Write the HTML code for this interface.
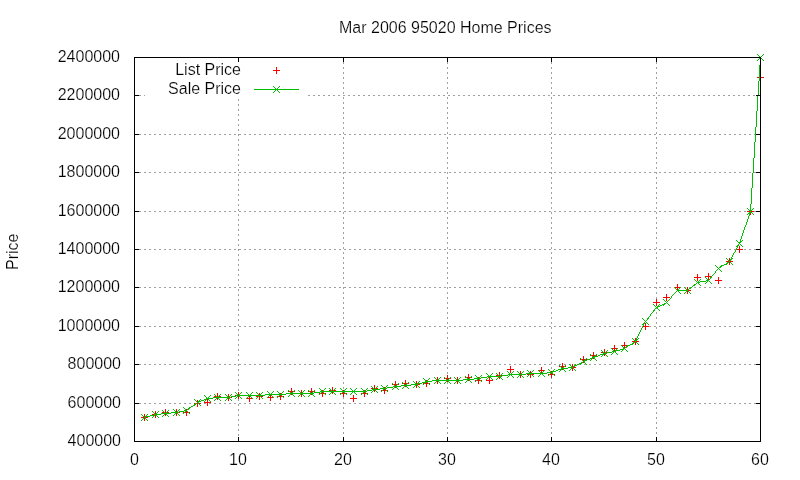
<!DOCTYPE html>
<html><head><meta charset="utf-8"><title>Mar 2006 95020 Home Prices</title>
<style>
html,body{margin:0;padding:0;background:#fff;}
body{width:800px;height:480px;position:relative;overflow:hidden;font-family:"Liberation Sans",sans-serif;font-size:16px;color:#000;}
.t{position:absolute;line-height:20px;height:20px;white-space:nowrap;will-change:transform;-webkit-text-stroke:0.2px #fff;}
.yl{left:0;width:120px;text-align:right;}
.xl{top:450px;width:60px;text-align:center;}
</style></head><body>
<svg width="800" height="480" viewBox="0 0 800 480" shape-rendering="crispEdges" style="position:absolute;left:0;top:0"><path fill="#a0a0a0" d="M343 62h1v1h-1zM447 62h1v1h-1zM551 62h1v1h-1zM656 62h1v1h-1zM343 63h1v1h-1zM447 63h1v1h-1zM551 63h1v1h-1zM656 63h1v1h-1zM343 67h1v1h-1zM447 67h1v1h-1zM551 67h1v1h-1zM656 67h1v1h-1zM343 68h1v1h-1zM447 68h1v1h-1zM551 68h1v1h-1zM656 68h1v1h-1zM343 72h1v1h-1zM447 72h1v1h-1zM551 72h1v1h-1zM656 72h1v1h-1zM343 73h1v1h-1zM447 73h1v1h-1zM551 73h1v1h-1zM656 73h1v1h-1zM343 77h1v1h-1zM447 77h1v1h-1zM551 77h1v1h-1zM656 77h1v1h-1zM343 78h1v1h-1zM447 78h1v1h-1zM551 78h1v1h-1zM656 78h1v1h-1zM343 82h1v1h-1zM447 82h1v1h-1zM551 82h1v1h-1zM656 82h1v1h-1zM343 83h1v1h-1zM447 83h1v1h-1zM551 83h1v1h-1zM656 83h1v1h-1zM343 87h1v1h-1zM447 87h1v1h-1zM551 87h1v1h-1zM656 87h1v1h-1zM343 88h1v1h-1zM447 88h1v1h-1zM551 88h1v1h-1zM656 88h1v1h-1zM343 92h1v1h-1zM447 92h1v1h-1zM551 92h1v1h-1zM656 92h1v1h-1zM343 93h1v1h-1zM447 93h1v1h-1zM551 93h1v1h-1zM656 93h1v1h-1zM139 95h2v1h-2zM144 95h1v1h-1zM308 95h2v1h-2zM313 95h2v1h-2zM318 95h2v1h-2zM323 95h2v1h-2zM328 95h2v1h-2zM333 95h2v1h-2zM338 95h2v1h-2zM343 95h2v1h-2zM348 95h2v1h-2zM353 95h2v1h-2zM358 95h2v1h-2zM363 95h2v1h-2zM368 95h2v1h-2zM373 95h2v1h-2zM378 95h2v1h-2zM383 95h2v1h-2zM388 95h2v1h-2zM393 95h2v1h-2zM398 95h2v1h-2zM403 95h2v1h-2zM408 95h2v1h-2zM413 95h2v1h-2zM418 95h2v1h-2zM423 95h2v1h-2zM428 95h2v1h-2zM433 95h2v1h-2zM438 95h2v1h-2zM443 95h2v1h-2zM448 95h2v1h-2zM453 95h2v1h-2zM458 95h2v1h-2zM463 95h2v1h-2zM468 95h2v1h-2zM473 95h2v1h-2zM478 95h2v1h-2zM483 95h2v1h-2zM488 95h2v1h-2zM493 95h2v1h-2zM498 95h2v1h-2zM503 95h2v1h-2zM508 95h2v1h-2zM513 95h2v1h-2zM518 95h2v1h-2zM523 95h2v1h-2zM528 95h2v1h-2zM533 95h2v1h-2zM538 95h2v1h-2zM543 95h2v1h-2zM548 95h2v1h-2zM553 95h2v1h-2zM558 95h2v1h-2zM563 95h2v1h-2zM568 95h2v1h-2zM573 95h2v1h-2zM578 95h2v1h-2zM583 95h2v1h-2zM588 95h2v1h-2zM593 95h2v1h-2zM598 95h2v1h-2zM603 95h2v1h-2zM608 95h2v1h-2zM613 95h2v1h-2zM618 95h2v1h-2zM623 95h2v1h-2zM628 95h2v1h-2zM633 95h2v1h-2zM638 95h2v1h-2zM643 95h2v1h-2zM648 95h2v1h-2zM653 95h2v1h-2zM658 95h2v1h-2zM663 95h2v1h-2zM668 95h2v1h-2zM673 95h2v1h-2zM678 95h2v1h-2zM683 95h2v1h-2zM688 95h2v1h-2zM693 95h2v1h-2zM698 95h2v1h-2zM703 95h2v1h-2zM708 95h2v1h-2zM713 95h2v1h-2zM718 95h2v1h-2zM723 95h2v1h-2zM728 95h2v1h-2zM733 95h2v1h-2zM738 95h2v1h-2zM743 95h2v1h-2zM748 95h2v1h-2zM753 95h2v1h-2zM343 97h1v1h-1zM447 97h1v1h-1zM551 97h1v1h-1zM656 97h1v1h-1zM343 98h1v1h-1zM447 98h1v1h-1zM551 98h1v1h-1zM656 98h1v1h-1zM238 99h1v1h-1zM238 100h1v1h-1zM343 102h1v1h-1zM447 102h1v1h-1zM551 102h1v1h-1zM656 102h1v1h-1zM343 103h1v1h-1zM447 103h1v1h-1zM551 103h1v1h-1zM656 103h1v1h-1zM238 104h1v1h-1zM238 105h1v1h-1zM343 107h1v1h-1zM447 107h1v1h-1zM551 107h1v1h-1zM656 107h1v1h-1zM343 108h1v1h-1zM447 108h1v1h-1zM551 108h1v1h-1zM656 108h1v1h-1zM238 109h1v1h-1zM238 110h1v1h-1zM343 112h1v1h-1zM447 112h1v1h-1zM551 112h1v1h-1zM656 112h1v1h-1zM343 113h1v1h-1zM447 113h1v1h-1zM551 113h1v1h-1zM656 113h1v1h-1zM238 114h1v1h-1zM238 115h1v1h-1zM343 117h1v1h-1zM447 117h1v1h-1zM551 117h1v1h-1zM656 117h1v1h-1zM343 118h1v1h-1zM447 118h1v1h-1zM551 118h1v1h-1zM656 118h1v1h-1zM238 119h1v1h-1zM238 120h1v1h-1zM343 122h1v1h-1zM447 122h1v1h-1zM551 122h1v1h-1zM656 122h1v1h-1zM343 123h1v1h-1zM447 123h1v1h-1zM551 123h1v1h-1zM656 123h1v1h-1zM238 124h1v1h-1zM238 125h1v1h-1zM343 127h1v1h-1zM447 127h1v1h-1zM551 127h1v1h-1zM656 127h1v1h-1zM343 128h1v1h-1zM447 128h1v1h-1zM551 128h1v1h-1zM656 128h1v1h-1zM238 129h1v1h-1zM238 130h1v1h-1zM343 132h1v1h-1zM447 132h1v1h-1zM551 132h1v1h-1zM656 132h1v1h-1zM343 133h1v1h-1zM447 133h1v1h-1zM551 133h1v1h-1zM656 133h1v1h-1zM139 134h2v1h-2zM144 134h2v1h-2zM149 134h2v1h-2zM154 134h2v1h-2zM159 134h2v1h-2zM164 134h2v1h-2zM169 134h2v1h-2zM174 134h2v1h-2zM179 134h2v1h-2zM184 134h2v1h-2zM189 134h2v1h-2zM194 134h2v1h-2zM199 134h2v1h-2zM204 134h2v1h-2zM209 134h2v1h-2zM214 134h2v1h-2zM219 134h2v1h-2zM224 134h2v1h-2zM229 134h2v1h-2zM234 134h2v1h-2zM238 134h3v1h-3zM244 134h2v1h-2zM249 134h2v1h-2zM254 134h2v1h-2zM259 134h2v1h-2zM264 134h2v1h-2zM269 134h2v1h-2zM274 134h2v1h-2zM279 134h2v1h-2zM284 134h2v1h-2zM289 134h2v1h-2zM294 134h2v1h-2zM299 134h2v1h-2zM304 134h2v1h-2zM309 134h2v1h-2zM314 134h2v1h-2zM319 134h2v1h-2zM324 134h2v1h-2zM329 134h2v1h-2zM334 134h2v1h-2zM339 134h2v1h-2zM344 134h2v1h-2zM349 134h2v1h-2zM354 134h2v1h-2zM359 134h2v1h-2zM364 134h2v1h-2zM369 134h2v1h-2zM374 134h2v1h-2zM379 134h2v1h-2zM384 134h2v1h-2zM389 134h2v1h-2zM394 134h2v1h-2zM399 134h2v1h-2zM404 134h2v1h-2zM409 134h2v1h-2zM414 134h2v1h-2zM419 134h2v1h-2zM424 134h2v1h-2zM429 134h2v1h-2zM434 134h2v1h-2zM439 134h2v1h-2zM444 134h2v1h-2zM449 134h2v1h-2zM454 134h2v1h-2zM459 134h2v1h-2zM464 134h2v1h-2zM469 134h2v1h-2zM474 134h2v1h-2zM479 134h2v1h-2zM484 134h2v1h-2zM489 134h2v1h-2zM494 134h2v1h-2zM499 134h2v1h-2zM504 134h2v1h-2zM509 134h2v1h-2zM514 134h2v1h-2zM519 134h2v1h-2zM524 134h2v1h-2zM529 134h2v1h-2zM534 134h2v1h-2zM539 134h2v1h-2zM544 134h2v1h-2zM549 134h2v1h-2zM554 134h2v1h-2zM559 134h2v1h-2zM564 134h2v1h-2zM569 134h2v1h-2zM574 134h2v1h-2zM579 134h2v1h-2zM584 134h2v1h-2zM589 134h2v1h-2zM594 134h2v1h-2zM599 134h2v1h-2zM604 134h2v1h-2zM609 134h2v1h-2zM614 134h2v1h-2zM619 134h2v1h-2zM624 134h2v1h-2zM629 134h2v1h-2zM634 134h2v1h-2zM639 134h2v1h-2zM644 134h2v1h-2zM649 134h2v1h-2zM654 134h2v1h-2zM659 134h2v1h-2zM664 134h2v1h-2zM669 134h2v1h-2zM674 134h2v1h-2zM679 134h2v1h-2zM684 134h2v1h-2zM689 134h2v1h-2zM694 134h2v1h-2zM699 134h2v1h-2zM704 134h2v1h-2zM709 134h2v1h-2zM714 134h2v1h-2zM719 134h2v1h-2zM724 134h2v1h-2zM729 134h2v1h-2zM734 134h2v1h-2zM739 134h2v1h-2zM744 134h2v1h-2zM749 134h2v1h-2zM754 134h1v1h-1zM238 135h1v1h-1zM343 137h1v1h-1zM447 137h1v1h-1zM551 137h1v1h-1zM656 137h1v1h-1zM343 138h1v1h-1zM447 138h1v1h-1zM551 138h1v1h-1zM656 138h1v1h-1zM238 139h1v1h-1zM238 140h1v1h-1zM343 142h1v1h-1zM447 142h1v1h-1zM551 142h1v1h-1zM656 142h1v1h-1zM343 143h1v1h-1zM447 143h1v1h-1zM551 143h1v1h-1zM656 143h1v1h-1zM238 144h1v1h-1zM238 145h1v1h-1zM343 147h1v1h-1zM447 147h1v1h-1zM551 147h1v1h-1zM656 147h1v1h-1zM343 148h1v1h-1zM447 148h1v1h-1zM551 148h1v1h-1zM656 148h1v1h-1zM238 149h1v1h-1zM238 150h1v1h-1zM343 152h1v1h-1zM447 152h1v1h-1zM551 152h1v1h-1zM656 152h1v1h-1zM343 153h1v1h-1zM447 153h1v1h-1zM551 153h1v1h-1zM656 153h1v1h-1zM238 154h1v1h-1zM238 155h1v1h-1zM343 157h1v1h-1zM447 157h1v1h-1zM551 157h1v1h-1zM656 157h1v1h-1zM343 158h1v1h-1zM447 158h1v1h-1zM551 158h1v1h-1zM656 158h1v1h-1zM238 159h1v1h-1zM238 160h1v1h-1zM343 162h1v1h-1zM447 162h1v1h-1zM551 162h1v1h-1zM656 162h1v1h-1zM343 163h1v1h-1zM447 163h1v1h-1zM551 163h1v1h-1zM656 163h1v1h-1zM238 164h1v1h-1zM238 165h1v1h-1zM343 167h1v1h-1zM447 167h1v1h-1zM551 167h1v1h-1zM656 167h1v1h-1zM343 168h1v1h-1zM447 168h1v1h-1zM551 168h1v1h-1zM656 168h1v1h-1zM238 169h1v1h-1zM238 170h1v1h-1zM139 172h2v1h-2zM144 172h2v1h-2zM149 172h2v1h-2zM154 172h2v1h-2zM159 172h2v1h-2zM164 172h2v1h-2zM169 172h2v1h-2zM174 172h2v1h-2zM179 172h2v1h-2zM184 172h2v1h-2zM189 172h2v1h-2zM194 172h2v1h-2zM199 172h2v1h-2zM204 172h2v1h-2zM209 172h2v1h-2zM214 172h2v1h-2zM219 172h2v1h-2zM224 172h2v1h-2zM229 172h2v1h-2zM234 172h2v1h-2zM239 172h2v1h-2zM244 172h2v1h-2zM249 172h2v1h-2zM254 172h2v1h-2zM259 172h2v1h-2zM264 172h2v1h-2zM269 172h2v1h-2zM274 172h2v1h-2zM279 172h2v1h-2zM284 172h2v1h-2zM289 172h2v1h-2zM294 172h2v1h-2zM299 172h2v1h-2zM304 172h2v1h-2zM309 172h2v1h-2zM314 172h2v1h-2zM319 172h2v1h-2zM324 172h2v1h-2zM329 172h2v1h-2zM334 172h2v1h-2zM339 172h2v1h-2zM343 172h3v1h-3zM349 172h2v1h-2zM354 172h2v1h-2zM359 172h2v1h-2zM364 172h2v1h-2zM369 172h2v1h-2zM374 172h2v1h-2zM379 172h2v1h-2zM384 172h2v1h-2zM389 172h2v1h-2zM394 172h2v1h-2zM399 172h2v1h-2zM404 172h2v1h-2zM409 172h2v1h-2zM414 172h2v1h-2zM419 172h2v1h-2zM424 172h2v1h-2zM429 172h2v1h-2zM434 172h2v1h-2zM439 172h2v1h-2zM444 172h2v1h-2zM447 172h1v1h-1zM449 172h2v1h-2zM454 172h2v1h-2zM459 172h2v1h-2zM464 172h2v1h-2zM469 172h2v1h-2zM474 172h2v1h-2zM479 172h2v1h-2zM484 172h2v1h-2zM489 172h2v1h-2zM494 172h2v1h-2zM499 172h2v1h-2zM504 172h2v1h-2zM509 172h2v1h-2zM514 172h2v1h-2zM519 172h2v1h-2zM524 172h2v1h-2zM529 172h2v1h-2zM534 172h2v1h-2zM539 172h2v1h-2zM544 172h2v1h-2zM549 172h3v1h-3zM554 172h2v1h-2zM559 172h2v1h-2zM564 172h2v1h-2zM569 172h2v1h-2zM574 172h2v1h-2zM579 172h2v1h-2zM584 172h2v1h-2zM589 172h2v1h-2zM594 172h2v1h-2zM599 172h2v1h-2zM604 172h2v1h-2zM609 172h2v1h-2zM614 172h2v1h-2zM619 172h2v1h-2zM624 172h2v1h-2zM629 172h2v1h-2zM634 172h2v1h-2zM639 172h2v1h-2zM644 172h2v1h-2zM649 172h2v1h-2zM654 172h3v1h-3zM659 172h2v1h-2zM664 172h2v1h-2zM669 172h2v1h-2zM674 172h2v1h-2zM679 172h2v1h-2zM684 172h2v1h-2zM689 172h2v1h-2zM694 172h2v1h-2zM699 172h2v1h-2zM704 172h2v1h-2zM709 172h2v1h-2zM714 172h2v1h-2zM719 172h2v1h-2zM724 172h2v1h-2zM729 172h2v1h-2zM734 172h2v1h-2zM739 172h2v1h-2zM744 172h2v1h-2zM749 172h2v1h-2zM754 172h2v1h-2zM343 173h1v1h-1zM447 173h1v1h-1zM551 173h1v1h-1zM656 173h1v1h-1zM238 174h1v1h-1zM238 175h1v1h-1zM343 177h1v1h-1zM447 177h1v1h-1zM551 177h1v1h-1zM656 177h1v1h-1zM343 178h1v1h-1zM447 178h1v1h-1zM551 178h1v1h-1zM656 178h1v1h-1zM238 179h1v1h-1zM238 180h1v1h-1zM343 182h1v1h-1zM447 182h1v1h-1zM551 182h1v1h-1zM656 182h1v1h-1zM343 183h1v1h-1zM447 183h1v1h-1zM551 183h1v1h-1zM656 183h1v1h-1zM238 184h1v1h-1zM238 185h1v1h-1zM343 187h1v1h-1zM447 187h1v1h-1zM551 187h1v1h-1zM656 187h1v1h-1zM343 188h1v1h-1zM447 188h1v1h-1zM551 188h1v1h-1zM656 188h1v1h-1zM238 189h1v1h-1zM238 190h1v1h-1zM343 192h1v1h-1zM447 192h1v1h-1zM551 192h1v1h-1zM656 192h1v1h-1zM343 193h1v1h-1zM447 193h1v1h-1zM551 193h1v1h-1zM656 193h1v1h-1zM238 194h1v1h-1zM238 195h1v1h-1zM343 197h1v1h-1zM447 197h1v1h-1zM551 197h1v1h-1zM656 197h1v1h-1zM343 198h1v1h-1zM447 198h1v1h-1zM551 198h1v1h-1zM656 198h1v1h-1zM238 199h1v1h-1zM238 200h1v1h-1zM343 202h1v1h-1zM447 202h1v1h-1zM551 202h1v1h-1zM656 202h1v1h-1zM343 203h1v1h-1zM447 203h1v1h-1zM551 203h1v1h-1zM656 203h1v1h-1zM238 204h1v1h-1zM238 205h1v1h-1zM343 207h1v1h-1zM447 207h1v1h-1zM551 207h1v1h-1zM656 207h1v1h-1zM343 208h1v1h-1zM447 208h1v1h-1zM551 208h1v1h-1zM656 208h1v1h-1zM238 209h1v1h-1zM238 210h1v1h-1zM139 211h2v1h-2zM144 211h2v1h-2zM149 211h2v1h-2zM154 211h2v1h-2zM159 211h2v1h-2zM164 211h2v1h-2zM169 211h2v1h-2zM174 211h2v1h-2zM179 211h2v1h-2zM184 211h2v1h-2zM189 211h2v1h-2zM194 211h2v1h-2zM199 211h2v1h-2zM204 211h2v1h-2zM209 211h2v1h-2zM214 211h2v1h-2zM219 211h2v1h-2zM224 211h2v1h-2zM229 211h2v1h-2zM234 211h2v1h-2zM239 211h2v1h-2zM244 211h2v1h-2zM249 211h2v1h-2zM254 211h2v1h-2zM259 211h2v1h-2zM264 211h2v1h-2zM269 211h2v1h-2zM274 211h2v1h-2zM279 211h2v1h-2zM284 211h2v1h-2zM289 211h2v1h-2zM294 211h2v1h-2zM299 211h2v1h-2zM304 211h2v1h-2zM309 211h2v1h-2zM314 211h2v1h-2zM319 211h2v1h-2zM324 211h2v1h-2zM329 211h2v1h-2zM334 211h2v1h-2zM339 211h2v1h-2zM344 211h2v1h-2zM349 211h2v1h-2zM354 211h2v1h-2zM359 211h2v1h-2zM364 211h2v1h-2zM369 211h2v1h-2zM374 211h2v1h-2zM379 211h2v1h-2zM384 211h2v1h-2zM389 211h2v1h-2zM394 211h2v1h-2zM399 211h2v1h-2zM404 211h2v1h-2zM409 211h2v1h-2zM414 211h2v1h-2zM419 211h2v1h-2zM424 211h2v1h-2zM429 211h2v1h-2zM434 211h2v1h-2zM439 211h2v1h-2zM444 211h2v1h-2zM449 211h2v1h-2zM454 211h2v1h-2zM459 211h2v1h-2zM464 211h2v1h-2zM469 211h2v1h-2zM474 211h2v1h-2zM479 211h2v1h-2zM484 211h2v1h-2zM489 211h2v1h-2zM494 211h2v1h-2zM499 211h2v1h-2zM504 211h2v1h-2zM509 211h2v1h-2zM514 211h2v1h-2zM519 211h2v1h-2zM524 211h2v1h-2zM529 211h2v1h-2zM534 211h2v1h-2zM539 211h2v1h-2zM544 211h2v1h-2zM549 211h2v1h-2zM554 211h2v1h-2zM559 211h2v1h-2zM564 211h2v1h-2zM569 211h2v1h-2zM574 211h2v1h-2zM579 211h2v1h-2zM584 211h2v1h-2zM589 211h2v1h-2zM594 211h2v1h-2zM599 211h2v1h-2zM604 211h2v1h-2zM609 211h2v1h-2zM614 211h2v1h-2zM619 211h2v1h-2zM624 211h2v1h-2zM629 211h2v1h-2zM634 211h2v1h-2zM639 211h2v1h-2zM644 211h2v1h-2zM649 211h2v1h-2zM654 211h2v1h-2zM659 211h2v1h-2zM664 211h2v1h-2zM669 211h2v1h-2zM674 211h2v1h-2zM679 211h2v1h-2zM684 211h2v1h-2zM689 211h2v1h-2zM694 211h2v1h-2zM699 211h2v1h-2zM704 211h2v1h-2zM709 211h2v1h-2zM714 211h2v1h-2zM719 211h2v1h-2zM724 211h2v1h-2zM729 211h2v1h-2zM734 211h2v1h-2zM739 211h2v1h-2zM744 211h2v1h-2zM754 211h2v1h-2zM343 212h1v1h-1zM447 212h1v1h-1zM551 212h1v1h-1zM656 212h1v1h-1zM343 213h1v1h-1zM447 213h1v1h-1zM551 213h1v1h-1zM656 213h1v1h-1zM238 214h1v1h-1zM238 215h1v1h-1zM343 217h1v1h-1zM447 217h1v1h-1zM551 217h1v1h-1zM656 217h1v1h-1zM343 218h1v1h-1zM447 218h1v1h-1zM551 218h1v1h-1zM656 218h1v1h-1zM238 219h1v1h-1zM238 220h1v1h-1zM343 222h1v1h-1zM447 222h1v1h-1zM551 222h1v1h-1zM656 222h1v1h-1zM343 223h1v1h-1zM447 223h1v1h-1zM551 223h1v1h-1zM656 223h1v1h-1zM238 224h1v1h-1zM238 225h1v1h-1zM343 227h1v1h-1zM447 227h1v1h-1zM551 227h1v1h-1zM656 227h1v1h-1zM343 228h1v1h-1zM447 228h1v1h-1zM551 228h1v1h-1zM656 228h1v1h-1zM238 229h1v1h-1zM238 230h1v1h-1zM343 232h1v1h-1zM447 232h1v1h-1zM551 232h1v1h-1zM656 232h1v1h-1zM343 233h1v1h-1zM447 233h1v1h-1zM551 233h1v1h-1zM656 233h1v1h-1zM238 234h1v1h-1zM238 235h1v1h-1zM343 237h1v1h-1zM447 237h1v1h-1zM551 237h1v1h-1zM656 237h1v1h-1zM343 238h1v1h-1zM447 238h1v1h-1zM551 238h1v1h-1zM656 238h1v1h-1zM238 239h1v1h-1zM238 240h1v1h-1zM343 242h1v1h-1zM447 242h1v1h-1zM551 242h1v1h-1zM656 242h1v1h-1zM343 243h1v1h-1zM447 243h1v1h-1zM551 243h1v1h-1zM656 243h1v1h-1zM238 244h1v1h-1zM238 245h1v1h-1zM343 247h1v1h-1zM447 247h1v1h-1zM551 247h1v1h-1zM656 247h1v1h-1zM343 248h1v1h-1zM447 248h1v1h-1zM551 248h1v1h-1zM656 248h1v1h-1zM139 249h2v1h-2zM144 249h2v1h-2zM149 249h2v1h-2zM154 249h2v1h-2zM159 249h2v1h-2zM164 249h2v1h-2zM169 249h2v1h-2zM174 249h2v1h-2zM179 249h2v1h-2zM184 249h2v1h-2zM189 249h2v1h-2zM194 249h2v1h-2zM199 249h2v1h-2zM204 249h2v1h-2zM209 249h2v1h-2zM214 249h2v1h-2zM219 249h2v1h-2zM224 249h2v1h-2zM229 249h2v1h-2zM234 249h2v1h-2zM238 249h3v1h-3zM244 249h2v1h-2zM249 249h2v1h-2zM254 249h2v1h-2zM259 249h2v1h-2zM264 249h2v1h-2zM269 249h2v1h-2zM274 249h2v1h-2zM279 249h2v1h-2zM284 249h2v1h-2zM289 249h2v1h-2zM294 249h2v1h-2zM299 249h2v1h-2zM304 249h2v1h-2zM309 249h2v1h-2zM314 249h2v1h-2zM319 249h2v1h-2zM324 249h2v1h-2zM329 249h2v1h-2zM334 249h2v1h-2zM339 249h2v1h-2zM344 249h2v1h-2zM349 249h2v1h-2zM354 249h2v1h-2zM359 249h2v1h-2zM364 249h2v1h-2zM369 249h2v1h-2zM374 249h2v1h-2zM379 249h2v1h-2zM384 249h2v1h-2zM389 249h2v1h-2zM394 249h2v1h-2zM399 249h2v1h-2zM404 249h2v1h-2zM409 249h2v1h-2zM414 249h2v1h-2zM419 249h2v1h-2zM424 249h2v1h-2zM429 249h2v1h-2zM434 249h2v1h-2zM439 249h2v1h-2zM444 249h2v1h-2zM449 249h2v1h-2zM454 249h2v1h-2zM459 249h2v1h-2zM464 249h2v1h-2zM469 249h2v1h-2zM474 249h2v1h-2zM479 249h2v1h-2zM484 249h2v1h-2zM489 249h2v1h-2zM494 249h2v1h-2zM499 249h2v1h-2zM504 249h2v1h-2zM509 249h2v1h-2zM514 249h2v1h-2zM519 249h2v1h-2zM524 249h2v1h-2zM529 249h2v1h-2zM534 249h2v1h-2zM539 249h2v1h-2zM544 249h2v1h-2zM549 249h2v1h-2zM554 249h2v1h-2zM559 249h2v1h-2zM564 249h2v1h-2zM569 249h2v1h-2zM574 249h2v1h-2zM579 249h2v1h-2zM584 249h2v1h-2zM589 249h2v1h-2zM594 249h2v1h-2zM599 249h2v1h-2zM604 249h2v1h-2zM609 249h2v1h-2zM614 249h2v1h-2zM619 249h2v1h-2zM624 249h2v1h-2zM629 249h2v1h-2zM634 249h2v1h-2zM639 249h2v1h-2zM644 249h2v1h-2zM649 249h2v1h-2zM654 249h2v1h-2zM659 249h2v1h-2zM664 249h2v1h-2zM669 249h2v1h-2zM674 249h2v1h-2zM679 249h2v1h-2zM684 249h2v1h-2zM689 249h2v1h-2zM694 249h2v1h-2zM699 249h2v1h-2zM704 249h2v1h-2zM709 249h2v1h-2zM714 249h2v1h-2zM719 249h2v1h-2zM724 249h2v1h-2zM729 249h2v1h-2zM734 249h2v1h-2zM744 249h2v1h-2zM749 249h2v1h-2zM754 249h2v1h-2zM238 250h1v1h-1zM343 252h1v1h-1zM447 252h1v1h-1zM551 252h1v1h-1zM656 252h1v1h-1zM343 253h1v1h-1zM447 253h1v1h-1zM551 253h1v1h-1zM656 253h1v1h-1zM238 254h1v1h-1zM238 255h1v1h-1zM343 257h1v1h-1zM447 257h1v1h-1zM551 257h1v1h-1zM656 257h1v1h-1zM343 258h1v1h-1zM447 258h1v1h-1zM551 258h1v1h-1zM656 258h1v1h-1zM238 259h1v1h-1zM238 260h1v1h-1zM343 262h1v1h-1zM447 262h1v1h-1zM551 262h1v1h-1zM656 262h1v1h-1zM343 263h1v1h-1zM447 263h1v1h-1zM551 263h1v1h-1zM656 263h1v1h-1zM238 264h1v1h-1zM238 265h1v1h-1zM343 267h1v1h-1zM447 267h1v1h-1zM551 267h1v1h-1zM656 267h1v1h-1zM343 268h1v1h-1zM447 268h1v1h-1zM551 268h1v1h-1zM656 268h1v1h-1zM238 269h1v1h-1zM238 270h1v1h-1zM343 272h1v1h-1zM447 272h1v1h-1zM551 272h1v1h-1zM656 272h1v1h-1zM343 273h1v1h-1zM447 273h1v1h-1zM551 273h1v1h-1zM656 273h1v1h-1zM238 274h1v1h-1zM238 275h1v1h-1zM343 277h1v1h-1zM447 277h1v1h-1zM551 277h1v1h-1zM656 277h1v1h-1zM343 278h1v1h-1zM447 278h1v1h-1zM551 278h1v1h-1zM656 278h1v1h-1zM238 279h1v1h-1zM238 280h1v1h-1zM343 282h1v1h-1zM447 282h1v1h-1zM551 282h1v1h-1zM656 282h1v1h-1zM343 283h1v1h-1zM447 283h1v1h-1zM551 283h1v1h-1zM656 283h1v1h-1zM238 284h1v1h-1zM238 285h1v1h-1zM139 287h2v1h-2zM144 287h2v1h-2zM149 287h2v1h-2zM154 287h2v1h-2zM159 287h2v1h-2zM164 287h2v1h-2zM169 287h2v1h-2zM174 287h2v1h-2zM179 287h2v1h-2zM184 287h2v1h-2zM189 287h2v1h-2zM194 287h2v1h-2zM199 287h2v1h-2zM204 287h2v1h-2zM209 287h2v1h-2zM214 287h2v1h-2zM219 287h2v1h-2zM224 287h2v1h-2zM229 287h2v1h-2zM234 287h2v1h-2zM239 287h2v1h-2zM244 287h2v1h-2zM249 287h2v1h-2zM254 287h2v1h-2zM259 287h2v1h-2zM264 287h2v1h-2zM269 287h2v1h-2zM274 287h2v1h-2zM279 287h2v1h-2zM284 287h2v1h-2zM289 287h2v1h-2zM294 287h2v1h-2zM299 287h2v1h-2zM304 287h2v1h-2zM309 287h2v1h-2zM314 287h2v1h-2zM319 287h2v1h-2zM324 287h2v1h-2zM329 287h2v1h-2zM334 287h2v1h-2zM339 287h2v1h-2zM343 287h3v1h-3zM349 287h2v1h-2zM354 287h2v1h-2zM359 287h2v1h-2zM364 287h2v1h-2zM369 287h2v1h-2zM374 287h2v1h-2zM379 287h2v1h-2zM384 287h2v1h-2zM389 287h2v1h-2zM394 287h2v1h-2zM399 287h2v1h-2zM404 287h2v1h-2zM409 287h2v1h-2zM414 287h2v1h-2zM419 287h2v1h-2zM424 287h2v1h-2zM429 287h2v1h-2zM434 287h2v1h-2zM439 287h2v1h-2zM444 287h2v1h-2zM447 287h1v1h-1zM449 287h2v1h-2zM454 287h2v1h-2zM459 287h2v1h-2zM464 287h2v1h-2zM469 287h2v1h-2zM474 287h2v1h-2zM479 287h2v1h-2zM484 287h2v1h-2zM489 287h2v1h-2zM494 287h2v1h-2zM499 287h2v1h-2zM504 287h2v1h-2zM509 287h2v1h-2zM514 287h2v1h-2zM519 287h2v1h-2zM524 287h2v1h-2zM529 287h2v1h-2zM534 287h2v1h-2zM539 287h2v1h-2zM544 287h2v1h-2zM549 287h3v1h-3zM554 287h2v1h-2zM559 287h2v1h-2zM564 287h2v1h-2zM569 287h2v1h-2zM574 287h2v1h-2zM579 287h2v1h-2zM584 287h2v1h-2zM589 287h2v1h-2zM594 287h2v1h-2zM599 287h2v1h-2zM604 287h2v1h-2zM609 287h2v1h-2zM614 287h2v1h-2zM619 287h2v1h-2zM624 287h2v1h-2zM629 287h2v1h-2zM634 287h2v1h-2zM639 287h2v1h-2zM644 287h2v1h-2zM649 287h2v1h-2zM654 287h3v1h-3zM659 287h2v1h-2zM664 287h2v1h-2zM669 287h2v1h-2zM685 287h1v1h-1zM689 287h1v1h-1zM694 287h2v1h-2zM699 287h2v1h-2zM704 287h2v1h-2zM709 287h2v1h-2zM714 287h2v1h-2zM719 287h2v1h-2zM724 287h2v1h-2zM729 287h2v1h-2zM734 287h2v1h-2zM739 287h2v1h-2zM744 287h2v1h-2zM749 287h2v1h-2zM754 287h2v1h-2zM343 288h1v1h-1zM447 288h1v1h-1zM551 288h1v1h-1zM656 288h1v1h-1zM238 289h1v1h-1zM238 290h1v1h-1zM343 292h1v1h-1zM447 292h1v1h-1zM551 292h1v1h-1zM656 292h1v1h-1zM343 293h1v1h-1zM447 293h1v1h-1zM551 293h1v1h-1zM656 293h1v1h-1zM238 294h1v1h-1zM238 295h1v1h-1zM343 297h1v1h-1zM447 297h1v1h-1zM551 297h1v1h-1zM656 297h1v1h-1zM343 298h1v1h-1zM447 298h1v1h-1zM551 298h1v1h-1zM656 298h1v1h-1zM238 299h1v1h-1zM238 300h1v1h-1zM343 302h1v1h-1zM447 302h1v1h-1zM551 302h1v1h-1zM343 303h1v1h-1zM447 303h1v1h-1zM551 303h1v1h-1zM238 304h1v1h-1zM238 305h1v1h-1zM343 307h1v1h-1zM447 307h1v1h-1zM551 307h1v1h-1zM343 308h1v1h-1zM447 308h1v1h-1zM551 308h1v1h-1zM656 308h1v1h-1zM238 309h1v1h-1zM238 310h1v1h-1zM343 312h1v1h-1zM447 312h1v1h-1zM551 312h1v1h-1zM656 312h1v1h-1zM343 313h1v1h-1zM447 313h1v1h-1zM551 313h1v1h-1zM656 313h1v1h-1zM238 314h1v1h-1zM238 315h1v1h-1zM343 317h1v1h-1zM447 317h1v1h-1zM551 317h1v1h-1zM656 317h1v1h-1zM343 318h1v1h-1zM447 318h1v1h-1zM551 318h1v1h-1zM656 318h1v1h-1zM238 319h1v1h-1zM238 320h1v1h-1zM343 322h1v1h-1zM447 322h1v1h-1zM551 322h1v1h-1zM656 322h1v1h-1zM343 323h1v1h-1zM447 323h1v1h-1zM551 323h1v1h-1zM656 323h1v1h-1zM238 324h1v1h-1zM238 325h1v1h-1zM139 326h2v1h-2zM144 326h2v1h-2zM149 326h2v1h-2zM154 326h2v1h-2zM159 326h2v1h-2zM164 326h2v1h-2zM169 326h2v1h-2zM174 326h2v1h-2zM179 326h2v1h-2zM184 326h2v1h-2zM189 326h2v1h-2zM194 326h2v1h-2zM199 326h2v1h-2zM204 326h2v1h-2zM209 326h2v1h-2zM214 326h2v1h-2zM219 326h2v1h-2zM224 326h2v1h-2zM229 326h2v1h-2zM234 326h2v1h-2zM239 326h2v1h-2zM244 326h2v1h-2zM249 326h2v1h-2zM254 326h2v1h-2zM259 326h2v1h-2zM264 326h2v1h-2zM269 326h2v1h-2zM274 326h2v1h-2zM279 326h2v1h-2zM284 326h2v1h-2zM289 326h2v1h-2zM294 326h2v1h-2zM299 326h2v1h-2zM304 326h2v1h-2zM309 326h2v1h-2zM314 326h2v1h-2zM319 326h2v1h-2zM324 326h2v1h-2zM329 326h2v1h-2zM334 326h2v1h-2zM339 326h2v1h-2zM344 326h2v1h-2zM349 326h2v1h-2zM354 326h2v1h-2zM359 326h2v1h-2zM364 326h2v1h-2zM369 326h2v1h-2zM374 326h2v1h-2zM379 326h2v1h-2zM384 326h2v1h-2zM389 326h2v1h-2zM394 326h2v1h-2zM399 326h2v1h-2zM404 326h2v1h-2zM409 326h2v1h-2zM414 326h2v1h-2zM419 326h2v1h-2zM424 326h2v1h-2zM429 326h2v1h-2zM434 326h2v1h-2zM439 326h2v1h-2zM444 326h2v1h-2zM449 326h2v1h-2zM454 326h2v1h-2zM459 326h2v1h-2zM464 326h2v1h-2zM469 326h2v1h-2zM474 326h2v1h-2zM479 326h2v1h-2zM484 326h2v1h-2zM489 326h2v1h-2zM494 326h2v1h-2zM499 326h2v1h-2zM504 326h2v1h-2zM509 326h2v1h-2zM514 326h2v1h-2zM519 326h2v1h-2zM524 326h2v1h-2zM529 326h2v1h-2zM534 326h2v1h-2zM539 326h2v1h-2zM544 326h2v1h-2zM549 326h2v1h-2zM554 326h2v1h-2zM559 326h2v1h-2zM564 326h2v1h-2zM569 326h2v1h-2zM574 326h2v1h-2zM579 326h2v1h-2zM584 326h2v1h-2zM589 326h2v1h-2zM594 326h2v1h-2zM599 326h2v1h-2zM604 326h2v1h-2zM609 326h2v1h-2zM614 326h2v1h-2zM619 326h2v1h-2zM624 326h2v1h-2zM629 326h2v1h-2zM634 326h2v1h-2zM639 326h2v1h-2zM649 326h2v1h-2zM654 326h2v1h-2zM659 326h2v1h-2zM664 326h2v1h-2zM669 326h2v1h-2zM674 326h2v1h-2zM679 326h2v1h-2zM684 326h2v1h-2zM689 326h2v1h-2zM694 326h2v1h-2zM699 326h2v1h-2zM704 326h2v1h-2zM709 326h2v1h-2zM714 326h2v1h-2zM719 326h2v1h-2zM724 326h2v1h-2zM729 326h2v1h-2zM734 326h2v1h-2zM739 326h2v1h-2zM744 326h2v1h-2zM749 326h2v1h-2zM754 326h2v1h-2zM343 327h1v1h-1zM447 327h1v1h-1zM551 327h1v1h-1zM656 327h1v1h-1zM343 328h1v1h-1zM447 328h1v1h-1zM551 328h1v1h-1zM656 328h1v1h-1zM238 329h1v1h-1zM238 330h1v1h-1zM343 332h1v1h-1zM447 332h1v1h-1zM551 332h1v1h-1zM656 332h1v1h-1zM343 333h1v1h-1zM447 333h1v1h-1zM551 333h1v1h-1zM656 333h1v1h-1zM238 334h1v1h-1zM238 335h1v1h-1zM343 337h1v1h-1zM447 337h1v1h-1zM551 337h1v1h-1zM656 337h1v1h-1zM343 338h1v1h-1zM447 338h1v1h-1zM551 338h1v1h-1zM656 338h1v1h-1zM238 339h1v1h-1zM238 340h1v1h-1zM343 342h1v1h-1zM447 342h1v1h-1zM551 342h1v1h-1zM656 342h1v1h-1zM343 343h1v1h-1zM447 343h1v1h-1zM551 343h1v1h-1zM656 343h1v1h-1zM238 344h1v1h-1zM238 345h1v1h-1zM343 347h1v1h-1zM447 347h1v1h-1zM551 347h1v1h-1zM656 347h1v1h-1zM343 348h1v1h-1zM447 348h1v1h-1zM551 348h1v1h-1zM656 348h1v1h-1zM238 349h1v1h-1zM238 350h1v1h-1zM343 352h1v1h-1zM447 352h1v1h-1zM551 352h1v1h-1zM656 352h1v1h-1zM343 353h1v1h-1zM447 353h1v1h-1zM551 353h1v1h-1zM656 353h1v1h-1zM238 354h1v1h-1zM238 355h1v1h-1zM343 357h1v1h-1zM447 357h1v1h-1zM551 357h1v1h-1zM656 357h1v1h-1zM343 358h1v1h-1zM447 358h1v1h-1zM551 358h1v1h-1zM656 358h1v1h-1zM238 359h1v1h-1zM238 360h1v1h-1zM343 362h1v1h-1zM447 362h1v1h-1zM551 362h1v1h-1zM656 362h1v1h-1zM343 363h1v1h-1zM447 363h1v1h-1zM551 363h1v1h-1zM656 363h1v1h-1zM139 364h2v1h-2zM144 364h2v1h-2zM149 364h2v1h-2zM154 364h2v1h-2zM159 364h2v1h-2zM164 364h2v1h-2zM169 364h2v1h-2zM174 364h2v1h-2zM179 364h2v1h-2zM184 364h2v1h-2zM189 364h2v1h-2zM194 364h2v1h-2zM199 364h2v1h-2zM204 364h2v1h-2zM209 364h2v1h-2zM214 364h2v1h-2zM219 364h2v1h-2zM224 364h2v1h-2zM229 364h2v1h-2zM234 364h2v1h-2zM238 364h3v1h-3zM244 364h2v1h-2zM249 364h2v1h-2zM254 364h2v1h-2zM259 364h2v1h-2zM264 364h2v1h-2zM269 364h2v1h-2zM274 364h2v1h-2zM279 364h2v1h-2zM284 364h2v1h-2zM289 364h2v1h-2zM294 364h2v1h-2zM299 364h2v1h-2zM304 364h2v1h-2zM309 364h2v1h-2zM314 364h2v1h-2zM319 364h2v1h-2zM324 364h2v1h-2zM329 364h2v1h-2zM334 364h2v1h-2zM339 364h2v1h-2zM344 364h2v1h-2zM349 364h2v1h-2zM354 364h2v1h-2zM359 364h2v1h-2zM364 364h2v1h-2zM369 364h2v1h-2zM374 364h2v1h-2zM379 364h2v1h-2zM384 364h2v1h-2zM389 364h2v1h-2zM394 364h2v1h-2zM399 364h2v1h-2zM404 364h2v1h-2zM409 364h2v1h-2zM414 364h2v1h-2zM419 364h2v1h-2zM424 364h2v1h-2zM429 364h2v1h-2zM434 364h2v1h-2zM439 364h2v1h-2zM444 364h2v1h-2zM449 364h2v1h-2zM454 364h2v1h-2zM459 364h2v1h-2zM464 364h2v1h-2zM469 364h2v1h-2zM474 364h2v1h-2zM479 364h2v1h-2zM484 364h2v1h-2zM489 364h2v1h-2zM494 364h2v1h-2zM499 364h2v1h-2zM504 364h2v1h-2zM509 364h2v1h-2zM514 364h2v1h-2zM519 364h2v1h-2zM524 364h2v1h-2zM529 364h2v1h-2zM534 364h2v1h-2zM539 364h2v1h-2zM544 364h2v1h-2zM549 364h2v1h-2zM554 364h2v1h-2zM559 364h2v1h-2zM564 364h2v1h-2zM570 364h1v1h-1zM574 364h1v1h-1zM579 364h1v1h-1zM584 364h2v1h-2zM589 364h2v1h-2zM594 364h2v1h-2zM599 364h2v1h-2zM604 364h2v1h-2zM609 364h2v1h-2zM614 364h2v1h-2zM619 364h2v1h-2zM624 364h2v1h-2zM629 364h2v1h-2zM634 364h2v1h-2zM639 364h2v1h-2zM644 364h2v1h-2zM649 364h2v1h-2zM654 364h2v1h-2zM659 364h2v1h-2zM664 364h2v1h-2zM669 364h2v1h-2zM674 364h2v1h-2zM679 364h2v1h-2zM684 364h2v1h-2zM689 364h2v1h-2zM694 364h2v1h-2zM699 364h2v1h-2zM704 364h2v1h-2zM709 364h2v1h-2zM714 364h2v1h-2zM719 364h2v1h-2zM724 364h2v1h-2zM729 364h2v1h-2zM734 364h2v1h-2zM739 364h2v1h-2zM744 364h2v1h-2zM749 364h2v1h-2zM754 364h2v1h-2zM238 365h1v1h-1zM343 367h1v1h-1zM447 367h1v1h-1zM551 367h1v1h-1zM656 367h1v1h-1zM343 368h1v1h-1zM447 368h1v1h-1zM551 368h1v1h-1zM656 368h1v1h-1zM238 369h1v1h-1zM238 370h1v1h-1zM343 372h1v1h-1zM447 372h1v1h-1zM656 372h1v1h-1zM343 373h1v1h-1zM447 373h1v1h-1zM656 373h1v1h-1zM238 374h1v1h-1zM238 375h1v1h-1zM343 377h1v1h-1zM656 377h1v1h-1zM343 378h1v1h-1zM551 378h1v1h-1zM656 378h1v1h-1zM238 379h1v1h-1zM238 380h1v1h-1zM343 382h1v1h-1zM447 382h1v1h-1zM551 382h1v1h-1zM656 382h1v1h-1zM343 383h1v1h-1zM447 383h1v1h-1zM551 383h1v1h-1zM656 383h1v1h-1zM238 384h1v1h-1zM238 385h1v1h-1zM343 387h1v1h-1zM447 387h1v1h-1zM551 387h1v1h-1zM656 387h1v1h-1zM343 388h1v1h-1zM447 388h1v1h-1zM551 388h1v1h-1zM656 388h1v1h-1zM238 389h1v1h-1zM238 390h1v1h-1zM447 392h1v1h-1zM551 392h1v1h-1zM656 392h1v1h-1zM447 393h1v1h-1zM551 393h1v1h-1zM656 393h1v1h-1zM343 397h1v1h-1zM447 397h1v1h-1zM551 397h1v1h-1zM656 397h1v1h-1zM343 398h1v1h-1zM447 398h1v1h-1zM551 398h1v1h-1zM656 398h1v1h-1zM238 399h1v1h-1zM238 400h1v1h-1zM343 402h1v1h-1zM447 402h1v1h-1zM551 402h1v1h-1zM656 402h1v1h-1zM139 403h2v1h-2zM144 403h2v1h-2zM149 403h2v1h-2zM154 403h2v1h-2zM159 403h2v1h-2zM164 403h2v1h-2zM169 403h2v1h-2zM174 403h2v1h-2zM179 403h2v1h-2zM184 403h2v1h-2zM189 403h2v1h-2zM204 403h2v1h-2zM209 403h2v1h-2zM214 403h2v1h-2zM219 403h2v1h-2zM224 403h2v1h-2zM229 403h2v1h-2zM234 403h2v1h-2zM239 403h2v1h-2zM244 403h2v1h-2zM249 403h2v1h-2zM254 403h2v1h-2zM259 403h2v1h-2zM264 403h2v1h-2zM269 403h2v1h-2zM274 403h2v1h-2zM279 403h2v1h-2zM284 403h2v1h-2zM289 403h2v1h-2zM294 403h2v1h-2zM299 403h2v1h-2zM304 403h2v1h-2zM309 403h2v1h-2zM314 403h2v1h-2zM319 403h2v1h-2zM324 403h2v1h-2zM329 403h2v1h-2zM334 403h2v1h-2zM339 403h2v1h-2zM343 403h3v1h-3zM349 403h2v1h-2zM354 403h2v1h-2zM359 403h2v1h-2zM364 403h2v1h-2zM369 403h2v1h-2zM374 403h2v1h-2zM379 403h2v1h-2zM384 403h2v1h-2zM389 403h2v1h-2zM394 403h2v1h-2zM399 403h2v1h-2zM404 403h2v1h-2zM409 403h2v1h-2zM414 403h2v1h-2zM419 403h2v1h-2zM424 403h2v1h-2zM429 403h2v1h-2zM434 403h2v1h-2zM439 403h2v1h-2zM444 403h2v1h-2zM447 403h1v1h-1zM449 403h2v1h-2zM454 403h2v1h-2zM459 403h2v1h-2zM464 403h2v1h-2zM469 403h2v1h-2zM474 403h2v1h-2zM479 403h2v1h-2zM484 403h2v1h-2zM489 403h2v1h-2zM494 403h2v1h-2zM499 403h2v1h-2zM504 403h2v1h-2zM509 403h2v1h-2zM514 403h2v1h-2zM519 403h2v1h-2zM524 403h2v1h-2zM529 403h2v1h-2zM534 403h2v1h-2zM539 403h2v1h-2zM544 403h2v1h-2zM549 403h3v1h-3zM554 403h2v1h-2zM559 403h2v1h-2zM564 403h2v1h-2zM569 403h2v1h-2zM574 403h2v1h-2zM579 403h2v1h-2zM584 403h2v1h-2zM589 403h2v1h-2zM594 403h2v1h-2zM599 403h2v1h-2zM604 403h2v1h-2zM609 403h2v1h-2zM614 403h2v1h-2zM619 403h2v1h-2zM624 403h2v1h-2zM629 403h2v1h-2zM634 403h2v1h-2zM639 403h2v1h-2zM644 403h2v1h-2zM649 403h2v1h-2zM654 403h3v1h-3zM659 403h2v1h-2zM664 403h2v1h-2zM669 403h2v1h-2zM674 403h2v1h-2zM679 403h2v1h-2zM684 403h2v1h-2zM689 403h2v1h-2zM694 403h2v1h-2zM699 403h2v1h-2zM704 403h2v1h-2zM709 403h2v1h-2zM714 403h2v1h-2zM719 403h2v1h-2zM724 403h2v1h-2zM729 403h2v1h-2zM734 403h2v1h-2zM739 403h2v1h-2zM744 403h2v1h-2zM749 403h2v1h-2zM754 403h2v1h-2zM238 404h1v1h-1zM238 405h1v1h-1zM343 407h1v1h-1zM447 407h1v1h-1zM551 407h1v1h-1zM656 407h1v1h-1zM343 408h1v1h-1zM447 408h1v1h-1zM551 408h1v1h-1zM656 408h1v1h-1zM238 409h1v1h-1zM238 410h1v1h-1zM343 412h1v1h-1zM447 412h1v1h-1zM551 412h1v1h-1zM656 412h1v1h-1zM343 413h1v1h-1zM447 413h1v1h-1zM551 413h1v1h-1zM656 413h1v1h-1zM238 414h1v1h-1zM238 415h1v1h-1zM343 417h1v1h-1zM447 417h1v1h-1zM551 417h1v1h-1zM656 417h1v1h-1zM343 418h1v1h-1zM447 418h1v1h-1zM551 418h1v1h-1zM656 418h1v1h-1zM238 419h1v1h-1zM238 420h1v1h-1zM343 422h1v1h-1zM447 422h1v1h-1zM551 422h1v1h-1zM656 422h1v1h-1zM343 423h1v1h-1zM447 423h1v1h-1zM551 423h1v1h-1zM656 423h1v1h-1zM238 424h1v1h-1zM238 425h1v1h-1zM343 427h1v1h-1zM447 427h1v1h-1zM551 427h1v1h-1zM656 427h1v1h-1zM343 428h1v1h-1zM447 428h1v1h-1zM551 428h1v1h-1zM656 428h1v1h-1zM238 429h1v1h-1zM238 430h1v1h-1zM343 432h1v1h-1zM447 432h1v1h-1zM551 432h1v1h-1zM656 432h1v1h-1zM343 433h1v1h-1zM447 433h1v1h-1zM551 433h1v1h-1zM656 433h1v1h-1zM238 434h1v1h-1zM238 435h1v1h-1z"/><path fill="#ff0000" d="M276 67h1v1h-1zM276 68h1v1h-1zM276 69h1v1h-1zM273 70h7v1h-7zM276 71h1v1h-1zM276 72h1v1h-1zM276 73h1v1h-1zM757 77h2v1h-2zM761 77h3v1h-3zM747 211h3v1h-3zM751 211h3v1h-3zM750 213h1v1h-1zM750 214h1v1h-1zM739 246h1v1h-1zM739 247h1v1h-1zM739 248h1v1h-1zM737 249h6v1h-6zM739 250h1v1h-1zM739 251h1v1h-1zM739 252h1v1h-1zM729 258h1v1h-1zM729 259h1v1h-1zM729 260h1v1h-1zM726 261h3v1h-3zM730 261h3v1h-3zM729 262h1v1h-1zM729 263h1v1h-1zM729 264h1v1h-1zM708 273h1v1h-1zM697 274h1v1h-1zM708 274h1v1h-1zM697 275h1v1h-1zM708 275h1v1h-1zM697 276h1v1h-1zM705 276h6v1h-6zM694 277h7v1h-7zM708 277h1v1h-1zM718 277h1v1h-1zM697 278h1v1h-1zM708 278h1v1h-1zM718 278h1v1h-1zM697 279h1v1h-1zM708 279h1v1h-1zM718 279h1v1h-1zM697 280h1v1h-1zM715 280h7v1h-7zM718 281h1v1h-1zM718 282h1v1h-1zM718 283h1v1h-1zM677 284h1v1h-1zM677 285h1v1h-1zM677 286h1v1h-1zM675 287h5v1h-5zM687 287h1v1h-1zM677 288h1v1h-1zM687 288h1v1h-1zM677 289h1v1h-1zM687 289h1v1h-1zM688 290h3v1h-3zM687 291h1v1h-1zM687 292h1v1h-1zM687 293h1v1h-1zM666 294h1v1h-1zM666 295h1v1h-1zM666 296h1v1h-1zM663 297h7v1h-7zM666 298h1v1h-1zM656 299h1v1h-1zM666 299h1v1h-1zM656 300h1v1h-1zM666 300h1v1h-1zM656 301h1v1h-1zM653 302h7v1h-7zM656 303h1v1h-1zM656 304h1v1h-1zM656 305h1v1h-1zM645 323h1v1h-1zM645 324h1v1h-1zM645 325h1v1h-1zM643 326h6v1h-6zM645 327h1v1h-1zM645 328h1v1h-1zM645 329h1v1h-1zM635 338h1v1h-1zM635 339h1v1h-1zM632 341h3v1h-3zM636 341h3v1h-3zM624 342h1v1h-1zM635 342h1v1h-1zM624 343h1v1h-1zM635 343h1v1h-1zM624 344h1v1h-1zM635 344h1v1h-1zM614 345h1v1h-1zM622 345h5v1h-5zM614 346h1v1h-1zM624 346h1v1h-1zM614 347h1v1h-1zM624 347h1v1h-1zM612 348h5v1h-5zM604 349h1v1h-1zM614 349h1v1h-1zM604 350h1v1h-1zM614 350h1v1h-1zM604 351h1v1h-1zM593 352h1v1h-1zM601 352h2v1h-2zM604 352h1v1h-1zM606 352h1v1h-1zM593 353h1v1h-1zM593 354h1v1h-1zM604 354h1v1h-1zM590 355h1v1h-1zM592 355h3v1h-3zM596 355h1v1h-1zM604 355h1v1h-1zM583 356h1v1h-1zM593 356h1v1h-1zM583 357h1v1h-1zM583 358h1v1h-1zM593 358h1v1h-1zM580 359h1v1h-1zM582 359h3v1h-3zM586 359h1v1h-1zM583 360h1v1h-1zM583 362h1v1h-1zM562 363h1v1h-1zM562 364h1v1h-1zM572 364h1v1h-1zM562 365h1v1h-1zM572 365h1v1h-1zM510 366h1v1h-1zM559 366h1v1h-1zM561 366h3v1h-3zM565 366h1v1h-1zM572 366h1v1h-1zM510 367h1v1h-1zM541 367h1v1h-1zM562 367h1v1h-1zM573 367h3v1h-3zM510 368h1v1h-1zM541 368h1v1h-1zM572 368h1v1h-1zM507 369h7v1h-7zM541 369h1v1h-1zM562 369h1v1h-1zM572 369h1v1h-1zM510 370h1v1h-1zM539 370h5v1h-5zM572 370h1v1h-1zM510 371h1v1h-1zM520 371h1v1h-1zM530 371h1v1h-1zM541 371h1v1h-1zM551 371h1v1h-1zM499 372h1v1h-1zM510 372h1v1h-1zM520 372h1v1h-1zM530 372h1v1h-1zM541 372h1v1h-1zM499 373h1v1h-1zM520 373h1v1h-1zM551 373h1v1h-1zM468 374h1v1h-1zM499 374h1v1h-1zM527 374h2v1h-2zM530 374h1v1h-1zM532 374h2v1h-2zM548 374h1v1h-1zM550 374h3v1h-3zM554 374h1v1h-1zM447 375h1v1h-1zM468 375h1v1h-1zM496 375h2v1h-2zM499 375h1v1h-1zM501 375h1v1h-1zM520 375h1v1h-1zM530 375h1v1h-1zM551 375h1v1h-1zM447 376h1v1h-1zM468 376h1v1h-1zM520 376h1v1h-1zM530 376h1v1h-1zM551 376h1v1h-1zM437 377h1v1h-1zM447 377h1v1h-1zM457 377h1v1h-1zM465 377h1v1h-1zM467 377h3v1h-3zM471 377h1v1h-1zM478 377h1v1h-1zM489 377h1v1h-1zM499 377h1v1h-1zM520 377h1v1h-1zM530 377h1v1h-1zM551 377h1v1h-1zM437 378h1v1h-1zM444 378h1v1h-1zM446 378h3v1h-3zM450 378h1v1h-1zM457 378h1v1h-1zM468 378h1v1h-1zM489 378h1v1h-1zM499 378h1v1h-1zM437 379h1v1h-1zM447 379h1v1h-1zM457 379h1v1h-1zM478 379h1v1h-1zM489 379h1v1h-1zM405 380h1v1h-1zM426 380h1v1h-1zM468 380h1v1h-1zM475 380h1v1h-1zM477 380h3v1h-3zM481 380h1v1h-1zM486 380h7v1h-7zM395 381h1v1h-1zM405 381h1v1h-1zM416 381h1v1h-1zM437 381h1v1h-1zM447 381h1v1h-1zM457 381h1v1h-1zM478 381h1v1h-1zM489 381h1v1h-1zM395 382h1v1h-1zM405 382h1v1h-1zM416 382h1v1h-1zM426 382h1v1h-1zM437 382h1v1h-1zM457 382h1v1h-1zM478 382h1v1h-1zM489 382h1v1h-1zM395 383h1v1h-1zM402 383h1v1h-1zM404 383h3v1h-3zM408 383h1v1h-1zM416 383h1v1h-1zM423 383h1v1h-1zM425 383h3v1h-3zM429 383h1v1h-1zM437 383h1v1h-1zM457 383h1v1h-1zM478 383h1v1h-1zM489 383h1v1h-1zM392 384h1v1h-1zM394 384h3v1h-3zM398 384h1v1h-1zM405 384h1v1h-1zM418 384h2v1h-2zM426 384h1v1h-1zM374 385h1v1h-1zM395 385h1v1h-1zM416 385h1v1h-1zM426 385h1v1h-1zM374 386h1v1h-1zM405 386h1v1h-1zM416 386h1v1h-1zM426 386h1v1h-1zM332 387h1v1h-1zM374 387h1v1h-1zM384 387h1v1h-1zM395 387h1v1h-1zM416 387h1v1h-1zM291 388h1v1h-1zM311 388h1v1h-1zM332 388h1v1h-1zM371 388h2v1h-2zM374 388h1v1h-1zM376 388h2v1h-2zM291 389h1v1h-1zM311 389h1v1h-1zM332 389h1v1h-1zM384 389h1v1h-1zM291 390h1v1h-1zM301 390h1v1h-1zM311 390h1v1h-1zM322 390h1v1h-1zM329 390h2v1h-2zM332 390h1v1h-1zM334 390h2v1h-2zM343 390h1v1h-1zM364 390h1v1h-1zM374 390h1v1h-1zM381 390h1v1h-1zM383 390h3v1h-3zM387 390h1v1h-1zM288 391h1v1h-1zM290 391h3v1h-3zM294 391h1v1h-1zM301 391h1v1h-1zM308 391h1v1h-1zM310 391h3v1h-3zM314 391h1v1h-1zM374 391h1v1h-1zM384 391h1v1h-1zM238 392h1v1h-1zM291 392h1v1h-1zM301 392h1v1h-1zM311 392h1v1h-1zM322 392h1v1h-1zM332 392h1v1h-1zM343 392h1v1h-1zM364 392h1v1h-1zM384 392h1v1h-1zM217 393h1v1h-1zM238 393h1v1h-1zM259 393h1v1h-1zM280 393h1v1h-1zM319 393h1v1h-1zM321 393h3v1h-3zM325 393h1v1h-1zM332 393h1v1h-1zM340 393h1v1h-1zM342 393h3v1h-3zM346 393h1v1h-1zM361 393h1v1h-1zM363 393h3v1h-3zM367 393h1v1h-1zM384 393h1v1h-1zM217 394h1v1h-1zM228 394h1v1h-1zM238 394h1v1h-1zM259 394h1v1h-1zM291 394h1v1h-1zM301 394h1v1h-1zM311 394h1v1h-1zM322 394h1v1h-1zM343 394h1v1h-1zM364 394h1v1h-1zM217 395h1v1h-1zM228 395h1v1h-1zM235 395h1v1h-1zM270 395h1v1h-1zM280 395h1v1h-1zM301 395h1v1h-1zM322 395h1v1h-1zM343 395h1v1h-1zM353 395h1v1h-1zM364 395h1v1h-1zM214 396h2v1h-2zM217 396h1v1h-1zM219 396h2v1h-2zM228 396h1v1h-1zM238 396h1v1h-1zM249 396h1v1h-1zM256 396h2v1h-2zM259 396h1v1h-1zM261 396h2v1h-2zM270 396h1v1h-1zM277 396h1v1h-1zM279 396h3v1h-3zM283 396h1v1h-1zM301 396h1v1h-1zM322 396h1v1h-1zM343 396h1v1h-1zM353 396h1v1h-1zM364 396h1v1h-1zM231 397h1v1h-1zM238 397h1v1h-1zM249 397h1v1h-1zM259 397h1v1h-1zM268 397h5v1h-5zM280 397h1v1h-1zM353 397h1v1h-1zM217 398h1v1h-1zM228 398h1v1h-1zM238 398h1v1h-1zM247 398h5v1h-5zM259 398h1v1h-1zM270 398h1v1h-1zM280 398h1v1h-1zM350 398h7v1h-7zM207 399h1v1h-1zM217 399h1v1h-1zM228 399h1v1h-1zM249 399h1v1h-1zM259 399h1v1h-1zM270 399h1v1h-1zM280 399h1v1h-1zM353 399h1v1h-1zM197 400h1v1h-1zM207 400h1v1h-1zM228 400h1v1h-1zM249 400h1v1h-1zM270 400h1v1h-1zM353 400h1v1h-1zM197 401h1v1h-1zM207 401h1v1h-1zM249 401h1v1h-1zM353 401h1v1h-1zM204 402h7v1h-7zM194 403h1v1h-1zM197 403h1v1h-1zM199 403h2v1h-2zM207 403h1v1h-1zM197 404h1v1h-1zM207 404h1v1h-1zM197 405h1v1h-1zM207 405h1v1h-1zM197 406h1v1h-1zM165 409h1v1h-1zM176 409h1v1h-1zM186 409h1v1h-1zM165 410h1v1h-1zM176 410h1v1h-1zM155 411h1v1h-1zM165 411h1v1h-1zM176 411h1v1h-1zM186 411h1v1h-1zM155 412h1v1h-1zM162 412h2v1h-2zM165 412h1v1h-1zM167 412h2v1h-2zM179 412h1v1h-1zM183 412h1v1h-1zM185 412h3v1h-3zM189 412h1v1h-1zM155 413h1v1h-1zM176 413h1v1h-1zM186 413h1v1h-1zM144 414h1v1h-1zM152 414h2v1h-2zM165 414h1v1h-1zM176 414h1v1h-1zM186 414h1v1h-1zM144 415h1v1h-1zM155 415h1v1h-1zM165 415h1v1h-1zM176 415h1v1h-1zM186 415h1v1h-1zM144 416h1v1h-1zM155 416h1v1h-1zM141 417h3v1h-3zM146 417h2v1h-2zM155 417h1v1h-1zM144 418h1v1h-1zM144 419h1v1h-1zM144 420h1v1h-1z"/><path fill="#00c000" d="M757 54h1v1h-1zM763 54h1v1h-1zM758 55h1v1h-1zM762 55h1v1h-1zM759 56h1v1h-1zM761 56h1v1h-1zM759 58h1v1h-1zM761 58h1v1h-1zM758 59h1v1h-1zM762 59h1v1h-1zM757 60h1v1h-1zM763 60h1v1h-1zM759 65h1v1h-1zM759 66h1v1h-1zM759 67h1v1h-1zM759 68h1v1h-1zM759 69h1v1h-1zM759 70h1v1h-1zM759 71h1v1h-1zM759 72h1v1h-1zM759 73h1v1h-1zM759 74h1v1h-1zM759 75h1v1h-1zM759 76h1v1h-1zM759 77h1v1h-1zM759 78h1v1h-1zM759 79h1v1h-1zM759 80h1v1h-1zM758 81h1v1h-1zM758 82h1v1h-1zM758 83h1v1h-1zM758 84h1v1h-1zM758 85h1v1h-1zM273 86h1v1h-1zM279 86h1v1h-1zM758 86h1v1h-1zM274 87h1v1h-1zM278 87h1v1h-1zM758 87h1v1h-1zM275 88h1v1h-1zM277 88h1v1h-1zM758 88h1v1h-1zM254 89h45v1h-45zM758 89h1v1h-1zM275 90h1v1h-1zM277 90h1v1h-1zM758 90h1v1h-1zM274 91h1v1h-1zM278 91h1v1h-1zM758 91h1v1h-1zM273 92h1v1h-1zM279 92h1v1h-1zM758 92h1v1h-1zM758 93h1v1h-1zM758 94h1v1h-1zM757 96h1v1h-1zM757 97h1v1h-1zM757 98h1v1h-1zM757 99h1v1h-1zM757 100h1v1h-1zM757 101h1v1h-1zM757 102h1v1h-1zM757 103h1v1h-1zM757 104h1v1h-1zM757 105h1v1h-1zM757 106h1v1h-1zM757 107h1v1h-1zM757 108h1v1h-1zM757 109h1v1h-1zM757 110h1v1h-1zM756 111h1v1h-1zM756 112h1v1h-1zM756 113h1v1h-1zM756 114h1v1h-1zM756 115h1v1h-1zM756 116h1v1h-1zM756 117h1v1h-1zM756 118h1v1h-1zM756 119h1v1h-1zM756 120h1v1h-1zM756 121h1v1h-1zM756 122h1v1h-1zM756 123h1v1h-1zM756 124h1v1h-1zM756 125h1v1h-1zM756 126h1v1h-1zM755 127h1v1h-1zM755 128h1v1h-1zM755 129h1v1h-1zM755 130h1v1h-1zM755 131h1v1h-1zM755 132h1v1h-1zM755 133h1v1h-1zM755 134h1v1h-1zM755 135h1v1h-1zM755 136h1v1h-1zM755 137h1v1h-1zM755 138h1v1h-1zM755 139h1v1h-1zM755 140h1v1h-1zM755 141h1v1h-1zM754 142h1v1h-1zM754 143h1v1h-1zM754 144h1v1h-1zM754 145h1v1h-1zM754 146h1v1h-1zM754 147h1v1h-1zM754 148h1v1h-1zM754 149h1v1h-1zM754 150h1v1h-1zM754 151h1v1h-1zM754 152h1v1h-1zM754 153h1v1h-1zM754 154h1v1h-1zM754 155h1v1h-1zM754 156h1v1h-1zM754 157h1v1h-1zM753 158h1v1h-1zM753 159h1v1h-1zM753 160h1v1h-1zM753 161h1v1h-1zM753 162h1v1h-1zM753 163h1v1h-1zM753 164h1v1h-1zM753 165h1v1h-1zM753 166h1v1h-1zM753 167h1v1h-1zM753 168h1v1h-1zM753 169h1v1h-1zM753 170h1v1h-1zM753 171h1v1h-1zM753 172h1v1h-1zM752 173h1v1h-1zM752 174h1v1h-1zM752 175h1v1h-1zM752 176h1v1h-1zM752 177h1v1h-1zM752 178h1v1h-1zM752 179h1v1h-1zM752 180h1v1h-1zM752 181h1v1h-1zM752 182h1v1h-1zM752 183h1v1h-1zM752 184h1v1h-1zM752 185h1v1h-1zM752 186h1v1h-1zM752 187h1v1h-1zM751 188h1v1h-1zM751 189h1v1h-1zM751 190h1v1h-1zM751 191h1v1h-1zM751 192h1v1h-1zM751 193h1v1h-1zM751 194h1v1h-1zM751 195h1v1h-1zM751 196h1v1h-1zM751 197h1v1h-1zM751 198h1v1h-1zM751 199h1v1h-1zM751 200h1v1h-1zM751 201h1v1h-1zM751 202h1v1h-1zM751 203h1v1h-1zM750 204h1v1h-1zM750 205h1v1h-1zM750 206h1v1h-1zM750 207h1v1h-1zM747 208h1v1h-1zM750 208h1v1h-1zM753 208h1v1h-1zM748 209h1v1h-1zM750 209h1v1h-1zM752 209h1v1h-1zM749 210h3v1h-3zM750 211h1v1h-1zM749 212h3v1h-3zM748 213h2v1h-2zM752 213h1v1h-1zM747 214h1v1h-1zM749 214h1v1h-1zM753 214h1v1h-1zM749 215h1v1h-1zM748 216h1v1h-1zM748 217h1v1h-1zM748 218h1v1h-1zM747 219h1v1h-1zM747 220h1v1h-1zM747 221h1v1h-1zM746 222h1v1h-1zM746 223h1v1h-1zM746 224h1v1h-1zM745 225h1v1h-1zM745 226h1v1h-1zM744 227h1v1h-1zM744 228h1v1h-1zM744 229h1v1h-1zM743 230h1v1h-1zM743 231h1v1h-1zM743 232h1v1h-1zM742 233h1v1h-1zM742 234h1v1h-1zM742 235h1v1h-1zM741 236h1v1h-1zM741 237h1v1h-1zM741 238h1v1h-1zM740 239h1v1h-1zM736 240h1v1h-1zM740 240h1v1h-1zM742 240h1v1h-1zM737 241h1v1h-1zM740 241h2v1h-2zM738 242h3v1h-3zM739 243h1v1h-1zM738 244h1v1h-1zM740 244h1v1h-1zM737 245h2v1h-2zM741 245h1v1h-1zM736 246h2v1h-2zM742 246h1v1h-1zM737 247h1v1h-1zM736 248h1v1h-1zM736 249h1v1h-1zM735 250h1v1h-1zM735 251h1v1h-1zM734 252h1v1h-1zM733 253h1v1h-1zM733 254h1v1h-1zM732 255h1v1h-1zM732 256h1v1h-1zM731 257h1v1h-1zM726 258h1v1h-1zM731 258h2v1h-2zM727 259h1v1h-1zM730 259h2v1h-2zM728 260h1v1h-1zM730 260h1v1h-1zM729 261h1v1h-1zM727 262h2v1h-2zM730 262h1v1h-1zM726 263h2v1h-2zM731 263h1v1h-1zM724 264h3v1h-3zM732 264h1v1h-1zM715 265h1v1h-1zM721 265h3v1h-3zM716 266h1v1h-1zM720 266h2v1h-2zM717 267h1v1h-1zM719 267h2v1h-2zM718 268h1v1h-1zM717 269h1v1h-1zM719 269h1v1h-1zM716 270h1v1h-1zM720 270h1v1h-1zM715 271h1v1h-1zM721 271h1v1h-1zM715 272h1v1h-1zM714 273h1v1h-1zM713 274h1v1h-1zM712 275h1v1h-1zM711 276h1v1h-1zM705 277h1v1h-1zM710 277h2v1h-2zM706 278h1v1h-1zM710 278h1v1h-1zM694 279h1v1h-1zM700 279h1v1h-1zM707 279h1v1h-1zM709 279h1v1h-1zM695 280h1v1h-1zM699 280h1v1h-1zM706 280h3v1h-3zM696 281h1v1h-1zM698 281h1v1h-1zM700 281h6v1h-6zM707 281h1v1h-1zM709 281h1v1h-1zM697 282h3v1h-3zM706 282h1v1h-1zM710 282h1v1h-1zM696 283h1v1h-1zM698 283h1v1h-1zM705 283h1v1h-1zM711 283h1v1h-1zM694 284h2v1h-2zM699 284h1v1h-1zM693 285h2v1h-2zM700 285h1v1h-1zM692 286h1v1h-1zM674 287h1v1h-1zM680 287h1v1h-1zM684 287h1v1h-1zM690 287h2v1h-2zM675 288h1v1h-1zM679 288h1v1h-1zM685 288h1v1h-1zM689 288h2v1h-2zM676 289h1v1h-1zM678 289h1v1h-1zM686 289h1v1h-1zM688 289h1v1h-1zM677 290h11v1h-11zM676 291h1v1h-1zM678 291h1v1h-1zM686 291h1v1h-1zM688 291h1v1h-1zM675 292h1v1h-1zM679 292h1v1h-1zM685 292h1v1h-1zM689 292h1v1h-1zM674 293h1v1h-1zM680 293h1v1h-1zM684 293h1v1h-1zM690 293h1v1h-1zM673 294h1v1h-1zM672 295h1v1h-1zM671 296h1v1h-1zM671 297h1v1h-1zM670 298h1v1h-1zM663 299h1v1h-1zM669 299h1v1h-1zM664 300h1v1h-1zM668 300h1v1h-1zM665 301h1v1h-1zM667 301h1v1h-1zM666 302h1v1h-1zM664 303h2v1h-2zM667 303h1v1h-1zM653 304h1v1h-1zM659 304h1v1h-1zM662 304h3v1h-3zM668 304h1v1h-1zM654 305h1v1h-1zM658 305h1v1h-1zM660 305h2v1h-2zM663 305h1v1h-1zM669 305h1v1h-1zM655 306h1v1h-1zM657 306h3v1h-3zM656 307h2v1h-2zM655 308h1v1h-1zM657 308h1v1h-1zM654 309h1v1h-1zM658 309h1v1h-1zM653 310h2v1h-2zM659 310h1v1h-1zM653 311h1v1h-1zM652 312h1v1h-1zM651 313h1v1h-1zM650 314h1v1h-1zM650 315h1v1h-1zM649 316h1v1h-1zM648 317h1v1h-1zM642 318h1v1h-1zM647 318h2v1h-2zM643 319h1v1h-1zM647 319h1v1h-1zM644 320h1v1h-1zM646 320h1v1h-1zM645 321h1v1h-1zM644 322h1v1h-1zM646 322h1v1h-1zM643 323h2v1h-2zM647 323h1v1h-1zM642 324h2v1h-2zM648 324h1v1h-1zM643 325h1v1h-1zM642 326h1v1h-1zM642 327h1v1h-1zM641 328h1v1h-1zM641 329h1v1h-1zM640 330h1v1h-1zM640 331h1v1h-1zM639 332h1v1h-1zM639 333h1v1h-1zM638 334h1v1h-1zM638 335h1v1h-1zM637 336h1v1h-1zM637 337h1v1h-1zM632 338h1v1h-1zM636 338h1v1h-1zM638 338h1v1h-1zM633 339h1v1h-1zM636 339h2v1h-2zM634 340h3v1h-3zM635 341h1v1h-1zM633 342h2v1h-2zM636 342h1v1h-1zM632 343h2v1h-2zM637 343h1v1h-1zM630 344h3v1h-3zM638 344h1v1h-1zM621 345h1v1h-1zM627 345h3v1h-3zM622 346h1v1h-1zM626 346h2v1h-2zM623 347h1v1h-1zM625 347h2v1h-2zM611 348h1v1h-1zM617 348h1v1h-1zM623 348h2v1h-2zM612 349h1v1h-1zM616 349h1v1h-1zM620 349h4v1h-4zM625 349h1v1h-1zM601 350h1v1h-1zM607 350h1v1h-1zM613 350h1v1h-1zM615 350h5v1h-5zM622 350h1v1h-1zM626 350h1v1h-1zM602 351h1v1h-1zM606 351h1v1h-1zM612 351h4v1h-4zM621 351h1v1h-1zM627 351h1v1h-1zM603 352h1v1h-1zM605 352h1v1h-1zM607 352h5v1h-5zM613 352h1v1h-1zM615 352h1v1h-1zM603 353h4v1h-4zM612 353h1v1h-1zM616 353h1v1h-1zM590 354h1v1h-1zM596 354h1v1h-1zM600 354h4v1h-4zM605 354h1v1h-1zM611 354h1v1h-1zM617 354h1v1h-1zM591 355h1v1h-1zM595 355h1v1h-1zM598 355h2v1h-2zM602 355h1v1h-1zM606 355h1v1h-1zM592 356h1v1h-1zM594 356h4v1h-4zM601 356h1v1h-1zM607 356h1v1h-1zM592 357h3v1h-3zM580 358h1v1h-1zM586 358h1v1h-1zM590 358h3v1h-3zM594 358h1v1h-1zM581 359h1v1h-1zM585 359h1v1h-1zM587 359h3v1h-3zM591 359h1v1h-1zM595 359h1v1h-1zM582 360h1v1h-1zM584 360h3v1h-3zM590 360h1v1h-1zM596 360h1v1h-1zM583 361h2v1h-2zM581 362h2v1h-2zM584 362h1v1h-1zM579 363h3v1h-3zM585 363h1v1h-1zM569 364h1v1h-1zM575 364h1v1h-1zM577 364h2v1h-2zM580 364h1v1h-1zM586 364h1v1h-1zM559 365h1v1h-1zM565 365h1v1h-1zM570 365h1v1h-1zM574 365h3v1h-3zM560 366h1v1h-1zM564 366h1v1h-1zM571 366h1v1h-1zM573 366h2v1h-2zM561 367h1v1h-1zM563 367h1v1h-1zM568 367h5v1h-5zM561 368h7v1h-7zM571 368h1v1h-1zM573 368h1v1h-1zM548 369h1v1h-1zM554 369h1v1h-1zM558 369h4v1h-4zM563 369h1v1h-1zM570 369h1v1h-1zM574 369h1v1h-1zM527 370h1v1h-1zM533 370h1v1h-1zM538 370h1v1h-1zM544 370h1v1h-1zM549 370h1v1h-1zM553 370h1v1h-1zM556 370h2v1h-2zM560 370h1v1h-1zM564 370h1v1h-1zM569 370h1v1h-1zM575 370h1v1h-1zM507 371h1v1h-1zM513 371h1v1h-1zM517 371h1v1h-1zM523 371h1v1h-1zM528 371h1v1h-1zM532 371h1v1h-1zM539 371h1v1h-1zM543 371h1v1h-1zM550 371h1v1h-1zM552 371h4v1h-4zM559 371h1v1h-1zM565 371h1v1h-1zM508 372h1v1h-1zM512 372h1v1h-1zM518 372h1v1h-1zM522 372h1v1h-1zM529 372h1v1h-1zM531 372h1v1h-1zM540 372h1v1h-1zM542 372h1v1h-1zM547 372h6v1h-6zM486 373h1v1h-1zM492 373h1v1h-1zM496 373h1v1h-1zM502 373h1v1h-1zM509 373h1v1h-1zM511 373h1v1h-1zM519 373h1v1h-1zM521 373h1v1h-1zM526 373h21v1h-21zM550 373h1v1h-1zM552 373h1v1h-1zM487 374h1v1h-1zM491 374h1v1h-1zM497 374h1v1h-1zM501 374h1v1h-1zM508 374h18v1h-18zM529 374h1v1h-1zM531 374h1v1h-1zM540 374h1v1h-1zM542 374h1v1h-1zM549 374h1v1h-1zM553 374h1v1h-1zM475 375h1v1h-1zM481 375h1v1h-1zM488 375h1v1h-1zM490 375h1v1h-1zM498 375h1v1h-1zM500 375h1v1h-1zM502 375h6v1h-6zM509 375h1v1h-1zM511 375h1v1h-1zM519 375h1v1h-1zM521 375h1v1h-1zM528 375h1v1h-1zM532 375h1v1h-1zM539 375h1v1h-1zM543 375h1v1h-1zM548 375h1v1h-1zM554 375h1v1h-1zM465 376h1v1h-1zM471 376h1v1h-1zM476 376h1v1h-1zM480 376h1v1h-1zM487 376h15v1h-15zM508 376h1v1h-1zM512 376h1v1h-1zM518 376h1v1h-1zM522 376h1v1h-1zM527 376h1v1h-1zM533 376h1v1h-1zM538 376h1v1h-1zM544 376h1v1h-1zM434 377h1v1h-1zM440 377h1v1h-1zM444 377h1v1h-1zM450 377h1v1h-1zM454 377h1v1h-1zM460 377h1v1h-1zM466 377h1v1h-1zM470 377h1v1h-1zM477 377h1v1h-1zM479 377h1v1h-1zM481 377h6v1h-6zM488 377h1v1h-1zM490 377h1v1h-1zM498 377h1v1h-1zM500 377h1v1h-1zM507 377h1v1h-1zM513 377h1v1h-1zM517 377h1v1h-1zM523 377h1v1h-1zM423 378h1v1h-1zM429 378h1v1h-1zM435 378h1v1h-1zM439 378h1v1h-1zM445 378h1v1h-1zM449 378h1v1h-1zM455 378h1v1h-1zM459 378h1v1h-1zM467 378h1v1h-1zM469 378h1v1h-1zM474 378h7v1h-7zM487 378h1v1h-1zM491 378h1v1h-1zM497 378h1v1h-1zM501 378h1v1h-1zM424 379h1v1h-1zM428 379h1v1h-1zM436 379h1v1h-1zM438 379h1v1h-1zM446 379h1v1h-1zM448 379h1v1h-1zM456 379h1v1h-1zM458 379h1v1h-1zM463 379h11v1h-11zM477 379h1v1h-1zM479 379h1v1h-1zM486 379h1v1h-1zM492 379h1v1h-1zM496 379h1v1h-1zM502 379h1v1h-1zM425 380h1v1h-1zM427 380h1v1h-1zM432 380h31v1h-31zM467 380h1v1h-1zM469 380h1v1h-1zM476 380h1v1h-1zM480 380h1v1h-1zM413 381h1v1h-1zM419 381h1v1h-1zM425 381h7v1h-7zM436 381h1v1h-1zM438 381h1v1h-1zM446 381h1v1h-1zM448 381h1v1h-1zM456 381h1v1h-1zM458 381h1v1h-1zM466 381h1v1h-1zM470 381h1v1h-1zM475 381h1v1h-1zM481 381h1v1h-1zM402 382h1v1h-1zM408 382h1v1h-1zM414 382h1v1h-1zM418 382h1v1h-1zM422 382h4v1h-4zM427 382h1v1h-1zM435 382h1v1h-1zM439 382h1v1h-1zM445 382h1v1h-1zM449 382h1v1h-1zM455 382h1v1h-1zM459 382h1v1h-1zM465 382h1v1h-1zM471 382h1v1h-1zM392 383h1v1h-1zM398 383h1v1h-1zM403 383h1v1h-1zM407 383h1v1h-1zM415 383h1v1h-1zM417 383h5v1h-5zM424 383h1v1h-1zM428 383h1v1h-1zM434 383h1v1h-1zM440 383h1v1h-1zM444 383h1v1h-1zM450 383h1v1h-1zM454 383h1v1h-1zM460 383h1v1h-1zM393 384h1v1h-1zM397 384h1v1h-1zM404 384h1v1h-1zM406 384h1v1h-1zM411 384h7v1h-7zM423 384h1v1h-1zM429 384h1v1h-1zM381 385h1v1h-1zM387 385h1v1h-1zM394 385h1v1h-1zM396 385h1v1h-1zM401 385h10v1h-10zM415 385h1v1h-1zM417 385h1v1h-1zM371 386h1v1h-1zM377 386h1v1h-1zM382 386h1v1h-1zM386 386h1v1h-1zM393 386h8v1h-8zM404 386h1v1h-1zM406 386h1v1h-1zM414 386h1v1h-1zM418 386h1v1h-1zM372 387h1v1h-1zM376 387h1v1h-1zM383 387h1v1h-1zM385 387h1v1h-1zM387 387h6v1h-6zM394 387h1v1h-1zM396 387h1v1h-1zM403 387h1v1h-1zM407 387h1v1h-1zM413 387h1v1h-1zM419 387h1v1h-1zM319 388h1v1h-1zM325 388h1v1h-1zM329 388h1v1h-1zM335 388h1v1h-1zM340 388h1v1h-1zM346 388h1v1h-1zM350 388h1v1h-1zM356 388h1v1h-1zM361 388h1v1h-1zM367 388h1v1h-1zM373 388h1v1h-1zM375 388h1v1h-1zM380 388h7v1h-7zM393 388h1v1h-1zM397 388h1v1h-1zM402 388h1v1h-1zM408 388h1v1h-1zM320 389h1v1h-1zM324 389h1v1h-1zM330 389h1v1h-1zM334 389h1v1h-1zM341 389h1v1h-1zM345 389h1v1h-1zM351 389h1v1h-1zM355 389h1v1h-1zM362 389h1v1h-1zM366 389h1v1h-1zM372 389h8v1h-8zM383 389h1v1h-1zM385 389h1v1h-1zM392 389h1v1h-1zM398 389h1v1h-1zM288 390h1v1h-1zM294 390h1v1h-1zM298 390h1v1h-1zM304 390h1v1h-1zM308 390h1v1h-1zM314 390h1v1h-1zM321 390h1v1h-1zM323 390h1v1h-1zM331 390h1v1h-1zM333 390h1v1h-1zM342 390h1v1h-1zM344 390h1v1h-1zM352 390h1v1h-1zM354 390h1v1h-1zM363 390h1v1h-1zM365 390h1v1h-1zM367 390h5v1h-5zM373 390h1v1h-1zM375 390h1v1h-1zM382 390h1v1h-1zM386 390h1v1h-1zM267 391h1v1h-1zM273 391h1v1h-1zM277 391h1v1h-1zM283 391h1v1h-1zM289 391h1v1h-1zM293 391h1v1h-1zM299 391h1v1h-1zM303 391h1v1h-1zM309 391h1v1h-1zM313 391h1v1h-1zM320 391h47v1h-47zM372 391h1v1h-1zM376 391h1v1h-1zM381 391h1v1h-1zM387 391h1v1h-1zM235 392h1v1h-1zM241 392h1v1h-1zM246 392h1v1h-1zM252 392h1v1h-1zM256 392h1v1h-1zM262 392h1v1h-1zM268 392h1v1h-1zM272 392h1v1h-1zM278 392h1v1h-1zM282 392h1v1h-1zM290 392h1v1h-1zM292 392h1v1h-1zM300 392h1v1h-1zM302 392h1v1h-1zM310 392h1v1h-1zM312 392h1v1h-1zM314 392h6v1h-6zM321 392h1v1h-1zM323 392h1v1h-1zM331 392h1v1h-1zM333 392h1v1h-1zM342 392h1v1h-1zM344 392h1v1h-1zM352 392h1v1h-1zM354 392h1v1h-1zM363 392h1v1h-1zM365 392h1v1h-1zM371 392h1v1h-1zM377 392h1v1h-1zM236 393h1v1h-1zM240 393h1v1h-1zM247 393h1v1h-1zM251 393h1v1h-1zM257 393h1v1h-1zM261 393h1v1h-1zM269 393h1v1h-1zM271 393h1v1h-1zM279 393h1v1h-1zM281 393h1v1h-1zM286 393h28v1h-28zM320 393h1v1h-1zM324 393h1v1h-1zM330 393h1v1h-1zM334 393h1v1h-1zM341 393h1v1h-1zM345 393h1v1h-1zM351 393h1v1h-1zM355 393h1v1h-1zM362 393h1v1h-1zM366 393h1v1h-1zM214 394h1v1h-1zM220 394h1v1h-1zM225 394h1v1h-1zM231 394h1v1h-1zM237 394h1v1h-1zM239 394h1v1h-1zM248 394h1v1h-1zM250 394h1v1h-1zM258 394h1v1h-1zM260 394h1v1h-1zM265 394h21v1h-21zM290 394h1v1h-1zM292 394h1v1h-1zM300 394h1v1h-1zM302 394h1v1h-1zM310 394h1v1h-1zM312 394h1v1h-1zM319 394h1v1h-1zM325 394h1v1h-1zM329 394h1v1h-1zM335 394h1v1h-1zM340 394h1v1h-1zM346 394h1v1h-1zM350 394h1v1h-1zM356 394h1v1h-1zM361 394h1v1h-1zM367 394h1v1h-1zM204 395h1v1h-1zM210 395h1v1h-1zM215 395h1v1h-1zM219 395h1v1h-1zM226 395h1v1h-1zM230 395h1v1h-1zM236 395h29v1h-29zM269 395h1v1h-1zM271 395h1v1h-1zM279 395h1v1h-1zM281 395h1v1h-1zM289 395h1v1h-1zM293 395h1v1h-1zM299 395h1v1h-1zM303 395h1v1h-1zM309 395h1v1h-1zM313 395h1v1h-1zM205 396h1v1h-1zM209 396h1v1h-1zM216 396h1v1h-1zM218 396h1v1h-1zM227 396h1v1h-1zM229 396h1v1h-1zM231 396h5v1h-5zM237 396h1v1h-1zM239 396h1v1h-1zM248 396h1v1h-1zM250 396h1v1h-1zM258 396h1v1h-1zM260 396h1v1h-1zM268 396h1v1h-1zM272 396h1v1h-1zM278 396h1v1h-1zM282 396h1v1h-1zM288 396h1v1h-1zM294 396h1v1h-1zM298 396h1v1h-1zM304 396h1v1h-1zM308 396h1v1h-1zM314 396h1v1h-1zM206 397h1v1h-1zM208 397h1v1h-1zM213 397h18v1h-18zM236 397h1v1h-1zM240 397h1v1h-1zM247 397h1v1h-1zM251 397h1v1h-1zM257 397h1v1h-1zM261 397h1v1h-1zM267 397h1v1h-1zM273 397h1v1h-1zM277 397h1v1h-1zM283 397h1v1h-1zM206 398h7v1h-7zM216 398h1v1h-1zM218 398h1v1h-1zM227 398h1v1h-1zM229 398h1v1h-1zM235 398h1v1h-1zM241 398h1v1h-1zM246 398h1v1h-1zM252 398h1v1h-1zM256 398h1v1h-1zM262 398h1v1h-1zM194 399h1v1h-1zM200 399h1v1h-1zM204 399h3v1h-3zM208 399h1v1h-1zM215 399h1v1h-1zM219 399h1v1h-1zM226 399h1v1h-1zM230 399h1v1h-1zM195 400h1v1h-1zM199 400h1v1h-1zM201 400h3v1h-3zM205 400h1v1h-1zM209 400h1v1h-1zM214 400h1v1h-1zM220 400h1v1h-1zM225 400h1v1h-1zM231 400h1v1h-1zM196 401h1v1h-1zM198 401h3v1h-3zM204 401h1v1h-1zM210 401h1v1h-1zM197 402h2v1h-2zM195 403h2v1h-2zM198 403h1v1h-1zM194 404h2v1h-2zM199 404h1v1h-1zM193 405h2v1h-2zM200 405h1v1h-1zM191 406h2v1h-2zM183 407h1v1h-1zM189 407h2v1h-2zM184 408h1v1h-1zM188 408h2v1h-2zM173 409h1v1h-1zM179 409h1v1h-1zM185 409h1v1h-1zM187 409h2v1h-2zM162 410h1v1h-1zM168 410h1v1h-1zM174 410h1v1h-1zM178 410h1v1h-1zM184 410h3v1h-3zM152 411h1v1h-1zM158 411h1v1h-1zM163 411h1v1h-1zM167 411h1v1h-1zM175 411h1v1h-1zM177 411h1v1h-1zM179 411h5v1h-5zM185 411h1v1h-1zM187 411h1v1h-1zM153 412h1v1h-1zM157 412h1v1h-1zM164 412h1v1h-1zM166 412h1v1h-1zM171 412h8v1h-8zM184 412h1v1h-1zM188 412h1v1h-1zM154 413h1v1h-1zM156 413h1v1h-1zM161 413h10v1h-10zM175 413h1v1h-1zM177 413h1v1h-1zM183 413h1v1h-1zM189 413h1v1h-1zM141 414h1v1h-1zM147 414h1v1h-1zM154 414h7v1h-7zM164 414h1v1h-1zM166 414h1v1h-1zM174 414h1v1h-1zM178 414h1v1h-1zM142 415h1v1h-1zM146 415h1v1h-1zM150 415h5v1h-5zM156 415h1v1h-1zM163 415h1v1h-1zM167 415h1v1h-1zM173 415h1v1h-1zM179 415h1v1h-1zM143 416h1v1h-1zM145 416h5v1h-5zM153 416h1v1h-1zM157 416h1v1h-1zM162 416h1v1h-1zM168 416h1v1h-1zM144 417h2v1h-2zM152 417h1v1h-1zM158 417h1v1h-1zM143 418h1v1h-1zM145 418h1v1h-1zM142 419h1v1h-1zM146 419h1v1h-1zM141 420h1v1h-1zM147 420h1v1h-1z"/><path fill="#000000" d="M134 57h627v1h-627zM134 58h1v1h-1zM238 58h1v1h-1zM343 58h1v1h-1zM447 58h1v1h-1zM551 58h1v1h-1zM656 58h1v1h-1zM760 58h1v1h-1zM134 59h1v1h-1zM238 59h1v1h-1zM343 59h1v1h-1zM447 59h1v1h-1zM551 59h1v1h-1zM656 59h1v1h-1zM760 59h1v1h-1zM134 60h1v1h-1zM238 60h1v1h-1zM343 60h1v1h-1zM447 60h1v1h-1zM551 60h1v1h-1zM656 60h1v1h-1zM760 60h1v1h-1zM134 61h1v1h-1zM238 61h1v1h-1zM343 61h1v1h-1zM447 61h1v1h-1zM551 61h1v1h-1zM656 61h1v1h-1zM760 61h1v1h-1zM134 62h1v1h-1zM760 62h1v1h-1zM134 63h1v1h-1zM760 63h1v1h-1zM134 64h1v1h-1zM760 64h1v1h-1zM134 65h1v1h-1zM760 65h1v1h-1zM134 66h1v1h-1zM760 66h1v1h-1zM134 67h1v1h-1zM760 67h1v1h-1zM134 68h1v1h-1zM760 68h1v1h-1zM134 69h1v1h-1zM760 69h1v1h-1zM134 70h1v1h-1zM760 70h1v1h-1zM134 71h1v1h-1zM760 71h1v1h-1zM134 72h1v1h-1zM760 72h1v1h-1zM134 73h1v1h-1zM760 73h1v1h-1zM134 74h1v1h-1zM760 74h1v1h-1zM134 75h1v1h-1zM760 75h1v1h-1zM134 76h1v1h-1zM760 76h1v1h-1zM134 77h1v1h-1zM760 77h1v1h-1zM134 78h1v1h-1zM760 78h1v1h-1zM134 79h1v1h-1zM760 79h1v1h-1zM134 80h1v1h-1zM760 80h1v1h-1zM134 81h1v1h-1zM760 81h1v1h-1zM134 82h1v1h-1zM760 82h1v1h-1zM134 83h1v1h-1zM760 83h1v1h-1zM134 84h1v1h-1zM760 84h1v1h-1zM134 85h1v1h-1zM760 85h1v1h-1zM134 86h1v1h-1zM760 86h1v1h-1zM134 87h1v1h-1zM760 87h1v1h-1zM134 88h1v1h-1zM760 88h1v1h-1zM134 89h1v1h-1zM760 89h1v1h-1zM134 90h1v1h-1zM760 90h1v1h-1zM134 91h1v1h-1zM760 91h1v1h-1zM134 92h1v1h-1zM760 92h1v1h-1zM134 93h1v1h-1zM760 93h1v1h-1zM134 94h1v1h-1zM760 94h1v1h-1zM134 95h5v1h-5zM756 95h5v1h-5zM134 96h1v1h-1zM760 96h1v1h-1zM134 97h1v1h-1zM760 97h1v1h-1zM134 98h1v1h-1zM760 98h1v1h-1zM134 99h1v1h-1zM760 99h1v1h-1zM134 100h1v1h-1zM760 100h1v1h-1zM134 101h1v1h-1zM760 101h1v1h-1zM134 102h1v1h-1zM760 102h1v1h-1zM134 103h1v1h-1zM760 103h1v1h-1zM134 104h1v1h-1zM760 104h1v1h-1zM134 105h1v1h-1zM760 105h1v1h-1zM134 106h1v1h-1zM760 106h1v1h-1zM134 107h1v1h-1zM760 107h1v1h-1zM134 108h1v1h-1zM760 108h1v1h-1zM134 109h1v1h-1zM760 109h1v1h-1zM134 110h1v1h-1zM760 110h1v1h-1zM134 111h1v1h-1zM760 111h1v1h-1zM134 112h1v1h-1zM760 112h1v1h-1zM134 113h1v1h-1zM760 113h1v1h-1zM134 114h1v1h-1zM760 114h1v1h-1zM134 115h1v1h-1zM760 115h1v1h-1zM134 116h1v1h-1zM760 116h1v1h-1zM134 117h1v1h-1zM760 117h1v1h-1zM134 118h1v1h-1zM760 118h1v1h-1zM134 119h1v1h-1zM760 119h1v1h-1zM134 120h1v1h-1zM760 120h1v1h-1zM134 121h1v1h-1zM760 121h1v1h-1zM134 122h1v1h-1zM760 122h1v1h-1zM134 123h1v1h-1zM760 123h1v1h-1zM134 124h1v1h-1zM760 124h1v1h-1zM134 125h1v1h-1zM760 125h1v1h-1zM134 126h1v1h-1zM760 126h1v1h-1zM134 127h1v1h-1zM760 127h1v1h-1zM134 128h1v1h-1zM760 128h1v1h-1zM134 129h1v1h-1zM760 129h1v1h-1zM134 130h1v1h-1zM760 130h1v1h-1zM134 131h1v1h-1zM760 131h1v1h-1zM134 132h1v1h-1zM760 132h1v1h-1zM134 133h1v1h-1zM760 133h1v1h-1zM134 134h5v1h-5zM756 134h5v1h-5zM134 135h1v1h-1zM760 135h1v1h-1zM134 136h1v1h-1zM760 136h1v1h-1zM134 137h1v1h-1zM760 137h1v1h-1zM134 138h1v1h-1zM760 138h1v1h-1zM134 139h1v1h-1zM760 139h1v1h-1zM134 140h1v1h-1zM760 140h1v1h-1zM134 141h1v1h-1zM760 141h1v1h-1zM134 142h1v1h-1zM760 142h1v1h-1zM134 143h1v1h-1zM760 143h1v1h-1zM134 144h1v1h-1zM760 144h1v1h-1zM134 145h1v1h-1zM760 145h1v1h-1zM134 146h1v1h-1zM760 146h1v1h-1zM134 147h1v1h-1zM760 147h1v1h-1zM134 148h1v1h-1zM760 148h1v1h-1zM134 149h1v1h-1zM760 149h1v1h-1zM134 150h1v1h-1zM760 150h1v1h-1zM134 151h1v1h-1zM760 151h1v1h-1zM134 152h1v1h-1zM760 152h1v1h-1zM134 153h1v1h-1zM760 153h1v1h-1zM134 154h1v1h-1zM760 154h1v1h-1zM134 155h1v1h-1zM760 155h1v1h-1zM134 156h1v1h-1zM760 156h1v1h-1zM134 157h1v1h-1zM760 157h1v1h-1zM134 158h1v1h-1zM760 158h1v1h-1zM134 159h1v1h-1zM760 159h1v1h-1zM134 160h1v1h-1zM760 160h1v1h-1zM134 161h1v1h-1zM760 161h1v1h-1zM134 162h1v1h-1zM760 162h1v1h-1zM134 163h1v1h-1zM760 163h1v1h-1zM134 164h1v1h-1zM760 164h1v1h-1zM134 165h1v1h-1zM760 165h1v1h-1zM134 166h1v1h-1zM760 166h1v1h-1zM134 167h1v1h-1zM760 167h1v1h-1zM134 168h1v1h-1zM760 168h1v1h-1zM134 169h1v1h-1zM760 169h1v1h-1zM134 170h1v1h-1zM760 170h1v1h-1zM134 171h1v1h-1zM760 171h1v1h-1zM134 172h5v1h-5zM756 172h5v1h-5zM134 173h1v1h-1zM760 173h1v1h-1zM134 174h1v1h-1zM760 174h1v1h-1zM134 175h1v1h-1zM760 175h1v1h-1zM134 176h1v1h-1zM760 176h1v1h-1zM134 177h1v1h-1zM760 177h1v1h-1zM134 178h1v1h-1zM760 178h1v1h-1zM134 179h1v1h-1zM760 179h1v1h-1zM134 180h1v1h-1zM760 180h1v1h-1zM134 181h1v1h-1zM760 181h1v1h-1zM134 182h1v1h-1zM760 182h1v1h-1zM134 183h1v1h-1zM760 183h1v1h-1zM134 184h1v1h-1zM760 184h1v1h-1zM134 185h1v1h-1zM760 185h1v1h-1zM134 186h1v1h-1zM760 186h1v1h-1zM134 187h1v1h-1zM760 187h1v1h-1zM134 188h1v1h-1zM760 188h1v1h-1zM134 189h1v1h-1zM760 189h1v1h-1zM134 190h1v1h-1zM760 190h1v1h-1zM134 191h1v1h-1zM760 191h1v1h-1zM134 192h1v1h-1zM760 192h1v1h-1zM134 193h1v1h-1zM760 193h1v1h-1zM134 194h1v1h-1zM760 194h1v1h-1zM134 195h1v1h-1zM760 195h1v1h-1zM134 196h1v1h-1zM760 196h1v1h-1zM134 197h1v1h-1zM760 197h1v1h-1zM134 198h1v1h-1zM760 198h1v1h-1zM134 199h1v1h-1zM760 199h1v1h-1zM134 200h1v1h-1zM760 200h1v1h-1zM134 201h1v1h-1zM760 201h1v1h-1zM134 202h1v1h-1zM760 202h1v1h-1zM134 203h1v1h-1zM760 203h1v1h-1zM134 204h1v1h-1zM760 204h1v1h-1zM134 205h1v1h-1zM760 205h1v1h-1zM134 206h1v1h-1zM760 206h1v1h-1zM134 207h1v1h-1zM760 207h1v1h-1zM134 208h1v1h-1zM760 208h1v1h-1zM134 209h1v1h-1zM760 209h1v1h-1zM134 210h1v1h-1zM760 210h1v1h-1zM134 211h5v1h-5zM756 211h5v1h-5zM134 212h1v1h-1zM760 212h1v1h-1zM134 213h1v1h-1zM760 213h1v1h-1zM134 214h1v1h-1zM760 214h1v1h-1zM134 215h1v1h-1zM760 215h1v1h-1zM134 216h1v1h-1zM760 216h1v1h-1zM134 217h1v1h-1zM760 217h1v1h-1zM134 218h1v1h-1zM760 218h1v1h-1zM134 219h1v1h-1zM760 219h1v1h-1zM134 220h1v1h-1zM760 220h1v1h-1zM134 221h1v1h-1zM760 221h1v1h-1zM134 222h1v1h-1zM760 222h1v1h-1zM134 223h1v1h-1zM760 223h1v1h-1zM134 224h1v1h-1zM760 224h1v1h-1zM134 225h1v1h-1zM760 225h1v1h-1zM134 226h1v1h-1zM760 226h1v1h-1zM134 227h1v1h-1zM760 227h1v1h-1zM134 228h1v1h-1zM760 228h1v1h-1zM134 229h1v1h-1zM760 229h1v1h-1zM134 230h1v1h-1zM760 230h1v1h-1zM134 231h1v1h-1zM760 231h1v1h-1zM134 232h1v1h-1zM760 232h1v1h-1zM134 233h1v1h-1zM760 233h1v1h-1zM134 234h1v1h-1zM760 234h1v1h-1zM134 235h1v1h-1zM760 235h1v1h-1zM134 236h1v1h-1zM760 236h1v1h-1zM134 237h1v1h-1zM760 237h1v1h-1zM134 238h1v1h-1zM760 238h1v1h-1zM134 239h1v1h-1zM760 239h1v1h-1zM134 240h1v1h-1zM760 240h1v1h-1zM134 241h1v1h-1zM760 241h1v1h-1zM134 242h1v1h-1zM760 242h1v1h-1zM134 243h1v1h-1zM760 243h1v1h-1zM134 244h1v1h-1zM760 244h1v1h-1zM134 245h1v1h-1zM760 245h1v1h-1zM134 246h1v1h-1zM760 246h1v1h-1zM134 247h1v1h-1zM760 247h1v1h-1zM134 248h1v1h-1zM760 248h1v1h-1zM134 249h5v1h-5zM756 249h5v1h-5zM134 250h1v1h-1zM760 250h1v1h-1zM134 251h1v1h-1zM760 251h1v1h-1zM134 252h1v1h-1zM760 252h1v1h-1zM134 253h1v1h-1zM760 253h1v1h-1zM134 254h1v1h-1zM760 254h1v1h-1zM134 255h1v1h-1zM760 255h1v1h-1zM134 256h1v1h-1zM760 256h1v1h-1zM134 257h1v1h-1zM760 257h1v1h-1zM134 258h1v1h-1zM760 258h1v1h-1zM134 259h1v1h-1zM760 259h1v1h-1zM134 260h1v1h-1zM760 260h1v1h-1zM134 261h1v1h-1zM760 261h1v1h-1zM134 262h1v1h-1zM760 262h1v1h-1zM134 263h1v1h-1zM760 263h1v1h-1zM134 264h1v1h-1zM760 264h1v1h-1zM134 265h1v1h-1zM760 265h1v1h-1zM134 266h1v1h-1zM760 266h1v1h-1zM134 267h1v1h-1zM760 267h1v1h-1zM134 268h1v1h-1zM760 268h1v1h-1zM134 269h1v1h-1zM760 269h1v1h-1zM134 270h1v1h-1zM760 270h1v1h-1zM134 271h1v1h-1zM760 271h1v1h-1zM134 272h1v1h-1zM760 272h1v1h-1zM134 273h1v1h-1zM760 273h1v1h-1zM134 274h1v1h-1zM760 274h1v1h-1zM134 275h1v1h-1zM760 275h1v1h-1zM134 276h1v1h-1zM760 276h1v1h-1zM134 277h1v1h-1zM760 277h1v1h-1zM134 278h1v1h-1zM760 278h1v1h-1zM134 279h1v1h-1zM760 279h1v1h-1zM134 280h1v1h-1zM760 280h1v1h-1zM134 281h1v1h-1zM760 281h1v1h-1zM134 282h1v1h-1zM760 282h1v1h-1zM134 283h1v1h-1zM760 283h1v1h-1zM134 284h1v1h-1zM760 284h1v1h-1zM134 285h1v1h-1zM760 285h1v1h-1zM134 286h1v1h-1zM760 286h1v1h-1zM134 287h5v1h-5zM756 287h5v1h-5zM134 288h1v1h-1zM760 288h1v1h-1zM134 289h1v1h-1zM760 289h1v1h-1zM134 290h1v1h-1zM760 290h1v1h-1zM134 291h1v1h-1zM760 291h1v1h-1zM134 292h1v1h-1zM760 292h1v1h-1zM134 293h1v1h-1zM760 293h1v1h-1zM134 294h1v1h-1zM760 294h1v1h-1zM134 295h1v1h-1zM760 295h1v1h-1zM134 296h1v1h-1zM760 296h1v1h-1zM134 297h1v1h-1zM760 297h1v1h-1zM134 298h1v1h-1zM760 298h1v1h-1zM134 299h1v1h-1zM760 299h1v1h-1zM134 300h1v1h-1zM760 300h1v1h-1zM134 301h1v1h-1zM760 301h1v1h-1zM134 302h1v1h-1zM760 302h1v1h-1zM134 303h1v1h-1zM760 303h1v1h-1zM134 304h1v1h-1zM760 304h1v1h-1zM134 305h1v1h-1zM760 305h1v1h-1zM134 306h1v1h-1zM760 306h1v1h-1zM134 307h1v1h-1zM760 307h1v1h-1zM134 308h1v1h-1zM760 308h1v1h-1zM134 309h1v1h-1zM760 309h1v1h-1zM134 310h1v1h-1zM760 310h1v1h-1zM134 311h1v1h-1zM760 311h1v1h-1zM134 312h1v1h-1zM760 312h1v1h-1zM134 313h1v1h-1zM760 313h1v1h-1zM134 314h1v1h-1zM760 314h1v1h-1zM134 315h1v1h-1zM760 315h1v1h-1zM134 316h1v1h-1zM760 316h1v1h-1zM134 317h1v1h-1zM760 317h1v1h-1zM134 318h1v1h-1zM760 318h1v1h-1zM134 319h1v1h-1zM760 319h1v1h-1zM134 320h1v1h-1zM760 320h1v1h-1zM134 321h1v1h-1zM760 321h1v1h-1zM134 322h1v1h-1zM760 322h1v1h-1zM134 323h1v1h-1zM760 323h1v1h-1zM134 324h1v1h-1zM760 324h1v1h-1zM134 325h1v1h-1zM760 325h1v1h-1zM134 326h5v1h-5zM756 326h5v1h-5zM134 327h1v1h-1zM760 327h1v1h-1zM134 328h1v1h-1zM760 328h1v1h-1zM134 329h1v1h-1zM760 329h1v1h-1zM134 330h1v1h-1zM760 330h1v1h-1zM134 331h1v1h-1zM760 331h1v1h-1zM134 332h1v1h-1zM760 332h1v1h-1zM134 333h1v1h-1zM760 333h1v1h-1zM134 334h1v1h-1zM760 334h1v1h-1zM134 335h1v1h-1zM760 335h1v1h-1zM134 336h1v1h-1zM760 336h1v1h-1zM134 337h1v1h-1zM760 337h1v1h-1zM134 338h1v1h-1zM760 338h1v1h-1zM134 339h1v1h-1zM760 339h1v1h-1zM134 340h1v1h-1zM760 340h1v1h-1zM134 341h1v1h-1zM760 341h1v1h-1zM134 342h1v1h-1zM760 342h1v1h-1zM134 343h1v1h-1zM760 343h1v1h-1zM134 344h1v1h-1zM760 344h1v1h-1zM134 345h1v1h-1zM760 345h1v1h-1zM134 346h1v1h-1zM760 346h1v1h-1zM134 347h1v1h-1zM760 347h1v1h-1zM134 348h1v1h-1zM760 348h1v1h-1zM134 349h1v1h-1zM760 349h1v1h-1zM134 350h1v1h-1zM760 350h1v1h-1zM134 351h1v1h-1zM760 351h1v1h-1zM134 352h1v1h-1zM760 352h1v1h-1zM134 353h1v1h-1zM760 353h1v1h-1zM134 354h1v1h-1zM760 354h1v1h-1zM134 355h1v1h-1zM760 355h1v1h-1zM134 356h1v1h-1zM760 356h1v1h-1zM134 357h1v1h-1zM760 357h1v1h-1zM134 358h1v1h-1zM760 358h1v1h-1zM134 359h1v1h-1zM760 359h1v1h-1zM134 360h1v1h-1zM760 360h1v1h-1zM134 361h1v1h-1zM760 361h1v1h-1zM134 362h1v1h-1zM760 362h1v1h-1zM134 363h1v1h-1zM760 363h1v1h-1zM134 364h5v1h-5zM756 364h5v1h-5zM134 365h1v1h-1zM760 365h1v1h-1zM134 366h1v1h-1zM760 366h1v1h-1zM134 367h1v1h-1zM760 367h1v1h-1zM134 368h1v1h-1zM760 368h1v1h-1zM134 369h1v1h-1zM760 369h1v1h-1zM134 370h1v1h-1zM760 370h1v1h-1zM134 371h1v1h-1zM760 371h1v1h-1zM134 372h1v1h-1zM760 372h1v1h-1zM134 373h1v1h-1zM760 373h1v1h-1zM134 374h1v1h-1zM760 374h1v1h-1zM134 375h1v1h-1zM760 375h1v1h-1zM134 376h1v1h-1zM760 376h1v1h-1zM134 377h1v1h-1zM760 377h1v1h-1zM134 378h1v1h-1zM760 378h1v1h-1zM134 379h1v1h-1zM760 379h1v1h-1zM134 380h1v1h-1zM760 380h1v1h-1zM134 381h1v1h-1zM760 381h1v1h-1zM134 382h1v1h-1zM760 382h1v1h-1zM134 383h1v1h-1zM760 383h1v1h-1zM134 384h1v1h-1zM760 384h1v1h-1zM134 385h1v1h-1zM760 385h1v1h-1zM134 386h1v1h-1zM760 386h1v1h-1zM134 387h1v1h-1zM760 387h1v1h-1zM134 388h1v1h-1zM760 388h1v1h-1zM134 389h1v1h-1zM760 389h1v1h-1zM134 390h1v1h-1zM760 390h1v1h-1zM134 391h1v1h-1zM760 391h1v1h-1zM134 392h1v1h-1zM760 392h1v1h-1zM134 393h1v1h-1zM760 393h1v1h-1zM134 394h1v1h-1zM760 394h1v1h-1zM134 395h1v1h-1zM760 395h1v1h-1zM134 396h1v1h-1zM760 396h1v1h-1zM134 397h1v1h-1zM760 397h1v1h-1zM134 398h1v1h-1zM760 398h1v1h-1zM134 399h1v1h-1zM760 399h1v1h-1zM134 400h1v1h-1zM760 400h1v1h-1zM134 401h1v1h-1zM760 401h1v1h-1zM134 402h1v1h-1zM760 402h1v1h-1zM134 403h5v1h-5zM756 403h5v1h-5zM134 404h1v1h-1zM760 404h1v1h-1zM134 405h1v1h-1zM760 405h1v1h-1zM134 406h1v1h-1zM760 406h1v1h-1zM134 407h1v1h-1zM760 407h1v1h-1zM134 408h1v1h-1zM760 408h1v1h-1zM134 409h1v1h-1zM760 409h1v1h-1zM134 410h1v1h-1zM760 410h1v1h-1zM134 411h1v1h-1zM760 411h1v1h-1zM134 412h1v1h-1zM760 412h1v1h-1zM134 413h1v1h-1zM760 413h1v1h-1zM134 414h1v1h-1zM760 414h1v1h-1zM134 415h1v1h-1zM760 415h1v1h-1zM134 416h1v1h-1zM760 416h1v1h-1zM134 417h1v1h-1zM760 417h1v1h-1zM134 418h1v1h-1zM760 418h1v1h-1zM134 419h1v1h-1zM760 419h1v1h-1zM134 420h1v1h-1zM760 420h1v1h-1zM134 421h1v1h-1zM760 421h1v1h-1zM134 422h1v1h-1zM760 422h1v1h-1zM134 423h1v1h-1zM760 423h1v1h-1zM134 424h1v1h-1zM760 424h1v1h-1zM134 425h1v1h-1zM760 425h1v1h-1zM134 426h1v1h-1zM760 426h1v1h-1zM134 427h1v1h-1zM760 427h1v1h-1zM134 428h1v1h-1zM760 428h1v1h-1zM134 429h1v1h-1zM760 429h1v1h-1zM134 430h1v1h-1zM760 430h1v1h-1zM134 431h1v1h-1zM760 431h1v1h-1zM134 432h1v1h-1zM760 432h1v1h-1zM134 433h1v1h-1zM760 433h1v1h-1zM134 434h1v1h-1zM760 434h1v1h-1zM134 435h1v1h-1zM760 435h1v1h-1zM134 436h1v1h-1zM760 436h1v1h-1zM134 437h1v1h-1zM238 437h1v1h-1zM343 437h1v1h-1zM447 437h1v1h-1zM551 437h1v1h-1zM656 437h1v1h-1zM760 437h1v1h-1zM134 438h1v1h-1zM238 438h1v1h-1zM343 438h1v1h-1zM447 438h1v1h-1zM551 438h1v1h-1zM656 438h1v1h-1zM760 438h1v1h-1zM134 439h1v1h-1zM238 439h1v1h-1zM343 439h1v1h-1zM447 439h1v1h-1zM551 439h1v1h-1zM656 439h1v1h-1zM760 439h1v1h-1zM134 440h1v1h-1zM238 440h1v1h-1zM343 440h1v1h-1zM447 440h1v1h-1zM551 440h1v1h-1zM656 440h1v1h-1zM760 440h1v1h-1zM134 441h627v1h-627z"/></svg>
<div class="t" style="left:339px;top:18px">Mar 2006 95020 Home Prices</div>
<div class="t" style="left:101px;top:60px;width:140px;text-align:right">List Price</div>
<div class="t" style="left:101px;top:79px;width:140px;text-align:right">Sale Price</div>
<div class="t" style="left:3px;top:270px;transform:rotate(-90deg);transform-origin:0 0">Price</div>
<div class="t yl" style="top:431px;left:1px">400000</div><div class="t yl" style="top:393px;left:1px">600000</div><div class="t yl" style="top:354px;left:1px">800000</div><div class="t yl" style="top:316px;left:0px">1000000</div><div class="t yl" style="top:277px;left:0px">1200000</div><div class="t yl" style="top:239px;left:0px">1400000</div><div class="t yl" style="top:201px;left:0px">1600000</div><div class="t yl" style="top:162px;left:0px">1800000</div><div class="t yl" style="top:124px;left:0px">2000000</div><div class="t yl" style="top:85px;left:0px">2200000</div><div class="t yl" style="top:47px;left:0px">2400000</div><div class="t xl" style="left:104px;width:61px">0</div><div class="t xl" style="left:208px">10</div><div class="t xl" style="left:313px">20</div><div class="t xl" style="left:417px">30</div><div class="t xl" style="left:521px">40</div><div class="t xl" style="left:626px">50</div><div class="t xl" style="left:730px">60</div>
</body></html>
